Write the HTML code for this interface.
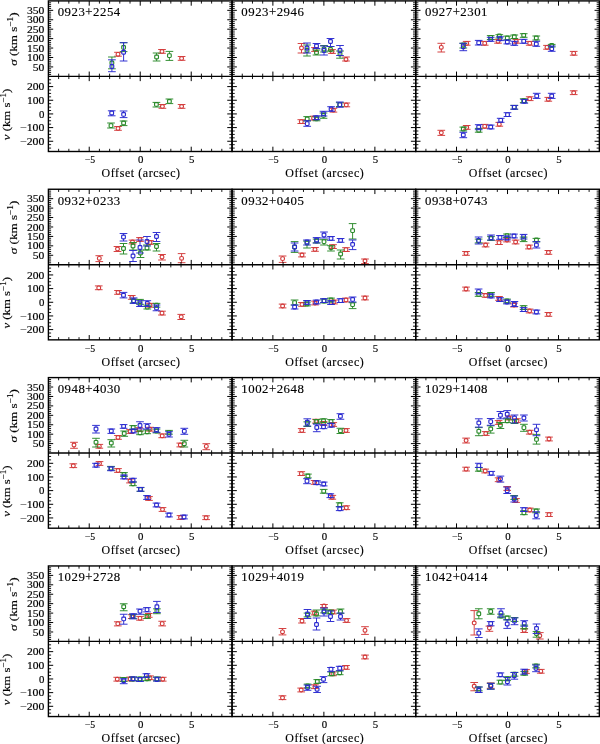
<!DOCTYPE html>
<html><head><meta charset="utf-8"><style>
html,body{margin:0;padding:0;background:#fff;}
svg{display:block;will-change:transform;}
text{font-family:"Liberation Serif",serif;fill:#000;stroke:#000;stroke-width:0.15px;}
.t{font-size:9.4px;}
.xl{font-size:11.9px;}
.nm{font-size:12.8px;}
.yl{font-size:11.3px;}
.sup{font-size:8px;}
</style></head><body>
<svg width="600" height="744" viewBox="0 0 600 744">
<rect width="600" height="744" fill="#fff"/>
<g fill="none" stroke-width="0.95" stroke-linecap="butt">
<g stroke="#d33a3a"><path d="M114.15 52.3h7.7M114.15 56.2h7.7"/><rect x="116.15" y="52.45" width="3.7" height="3.7" rx="1.5" stroke-width="1.15"/></g>
<g stroke="#d33a3a"><path d="M158.15 49.5h7.7M158.15 53.3h7.7"/><rect x="160.15" y="49.55" width="3.7" height="3.7" rx="1.5" stroke-width="1.15"/></g>
<g stroke="#d33a3a"><path d="M177.75 56.5h7.7M177.75 60.3h7.7"/><rect x="179.75" y="56.55" width="3.7" height="3.7" rx="1.5" stroke-width="1.15"/></g>
<g stroke="#2a8a2a"><path d="M111.9 57V61.05M111.9 64.75V68.8M108.05 57h7.7M108.05 68.8h7.7"/><rect x="110.05" y="61.05" width="3.7" height="3.7" rx="0.9" stroke-width="1.15"/></g>
<g stroke="#2a8a2a"><path d="M123.6 42.7V45.55M123.6 49.25V51.6M119.75 42.7h7.7M119.75 51.6h7.7"/><rect x="121.75" y="45.55" width="3.7" height="3.7" rx="0.9" stroke-width="1.15"/></g>
<g stroke="#2a8a2a"><path d="M156.6 53V55.15M156.6 58.85V61M152.75 53h7.7M152.75 61h7.7"/><rect x="154.75" y="55.15" width="3.7" height="3.7" rx="0.9" stroke-width="1.15"/></g>
<g stroke="#2a8a2a"><path d="M169.4 51.4V53.75M169.4 57.45V60.4M165.55 51.4h7.7M165.55 60.4h7.7"/><rect x="167.55" y="53.75" width="3.7" height="3.7" rx="0.9" stroke-width="1.15"/></g>
<g stroke="#2a2ad0"><path d="M111.9 59.8V64.65M111.9 68.35V71.7M108.05 59.8h7.7M108.05 71.7h7.7"/><rect x="110.05" y="64.65" width="3.7" height="3.7" rx="0.9" stroke-width="1.15"/></g>
<g stroke="#2a2ad0"><path d="M123.6 42.7V50.35M123.6 54.05V61M119.75 42.7h7.7M119.75 61h7.7"/><rect x="121.75" y="50.35" width="3.7" height="3.7" rx="0.9" stroke-width="1.15"/></g>
<g stroke="#d33a3a"><path d="M114.15 126.5h7.7M114.15 130.3h7.7"/><rect x="116.15" y="126.55" width="3.7" height="3.7" rx="1.5" stroke-width="1.15"/></g>
<g stroke="#d33a3a"><path d="M158.55 104.5h7.7M158.55 108.3h7.7"/><rect x="160.55" y="104.55" width="3.7" height="3.7" rx="1.5" stroke-width="1.15"/></g>
<g stroke="#d33a3a"><path d="M177.75 104.5h7.7M177.75 108.3h7.7"/><rect x="179.75" y="104.55" width="3.7" height="3.7" rx="1.5" stroke-width="1.15"/></g>
<g stroke="#2a8a2a"><path d="M111 123V123.75M111 127.45V128M107.15 123h7.7M107.15 128h7.7"/><rect x="109.15" y="123.75" width="3.7" height="3.7" rx="0.9" stroke-width="1.15"/></g>
<g stroke="#2a8a2a"><path d="M123.6 124.85V125.6M119.75 121h7.7M119.75 125.6h7.7"/><rect x="121.75" y="121.15" width="3.7" height="3.7" rx="0.9" stroke-width="1.15"/></g>
<g stroke="#2a8a2a"><path d="M156.4 106.25V107M152.55 102.4h7.7M152.55 107h7.7"/><rect x="154.55" y="102.55" width="3.7" height="3.7" rx="0.9" stroke-width="1.15"/></g>
<g stroke="#2a8a2a"><path d="M169.4 99V99.55M165.55 99h7.7M165.55 103.6h7.7"/><rect x="167.55" y="99.55" width="3.7" height="3.7" rx="0.9" stroke-width="1.15"/></g>
<g stroke="#2a2ad0"><path d="M111.7 114.85V115.8M107.85 110.8h7.7M107.85 115.8h7.7"/><rect x="109.85" y="111.15" width="3.7" height="3.7" rx="0.9" stroke-width="1.15"/></g>
<g stroke="#2a2ad0"><path d="M123.6 111V112.55M123.6 116.25V117.6M119.75 111h7.7M119.75 117.6h7.7"/><rect x="121.75" y="112.55" width="3.7" height="3.7" rx="0.9" stroke-width="1.15"/></g>
<g stroke="#d33a3a"><path d="M301.5 43.5V46.15M301.5 49.85V53M297.65 43.5h7.7M297.65 53h7.7"/><rect x="299.65" y="46.15" width="3.7" height="3.7" rx="1.5" stroke-width="1.15"/></g>
<g stroke="#d33a3a"><path d="M311.15 47.6h7.7M311.15 51.4h7.7"/><rect x="313.15" y="47.65" width="3.7" height="3.7" rx="1.5" stroke-width="1.15"/></g>
<g stroke="#d33a3a"><path d="M328.15 49.6h7.7M328.15 53.4h7.7"/><rect x="330.15" y="49.65" width="3.7" height="3.7" rx="1.5" stroke-width="1.15"/></g>
<g stroke="#d33a3a"><path d="M346 57V57.65M342.15 57h7.7M342.15 61h7.7"/><rect x="344.15" y="57.65" width="3.7" height="3.7" rx="1.5" stroke-width="1.15"/></g>
<g stroke="#2a8a2a"><path d="M307 45V48.65M307 52.35V56M303.15 45h7.7M303.15 56h7.7"/><rect x="305.15" y="48.65" width="3.7" height="3.7" rx="0.9" stroke-width="1.15"/></g>
<g stroke="#2a8a2a"><path d="M316.5 50V50.65M316.5 54.35V55M312.65 50h7.7M312.65 55h7.7"/><rect x="314.65" y="50.65" width="3.7" height="3.7" rx="0.9" stroke-width="1.15"/></g>
<g stroke="#2a8a2a"><path d="M324 45.5V47.15M324 50.85V52M320.15 45.5h7.7M320.15 52h7.7"/><rect x="322.15" y="47.15" width="3.7" height="3.7" rx="0.9" stroke-width="1.15"/></g>
<g stroke="#2a8a2a"><path d="M330.5 46.5V47.65M326.65 46.5h7.7M326.65 51h7.7"/><rect x="328.65" y="47.65" width="3.7" height="3.7" rx="0.9" stroke-width="1.15"/></g>
<g stroke="#2a8a2a"><path d="M340 51V52.15M340 55.85V58.2M336.15 51h7.7M336.15 58.2h7.7"/><rect x="338.15" y="52.15" width="3.7" height="3.7" rx="0.9" stroke-width="1.15"/></g>
<g stroke="#2a2ad0"><path d="M307 43V46.15M307 49.85V53M303.15 43h7.7M303.15 53h7.7"/><rect x="305.15" y="46.15" width="3.7" height="3.7" rx="0.9" stroke-width="1.15"/></g>
<g stroke="#2a2ad0"><path d="M316.5 43.5V44.15M316.5 47.85V48.5M312.65 43.5h7.7M312.65 48.5h7.7"/><rect x="314.65" y="44.15" width="3.7" height="3.7" rx="0.9" stroke-width="1.15"/></g>
<g stroke="#2a2ad0"><path d="M324 46V48.65M324 52.35V55M320.15 46h7.7M320.15 55h7.7"/><rect x="322.15" y="48.65" width="3.7" height="3.7" rx="0.9" stroke-width="1.15"/></g>
<g stroke="#2a2ad0"><path d="M330.5 38.5V39.65M330.5 43.35V46.5M326.65 38.5h7.7M326.65 46.5h7.7"/><rect x="328.65" y="39.65" width="3.7" height="3.7" rx="0.9" stroke-width="1.15"/></g>
<g stroke="#2a2ad0"><path d="M340 45.5V48.65M340 52.35V55.5M336.15 45.5h7.7M336.15 55.5h7.7"/><rect x="338.15" y="48.65" width="3.7" height="3.7" rx="0.9" stroke-width="1.15"/></g>
<g stroke="#d33a3a"><path d="M297.45 119.7h7.7M297.45 123.5h7.7"/><rect x="299.45" y="119.75" width="3.7" height="3.7" rx="1.5" stroke-width="1.15"/></g>
<g stroke="#d33a3a"><path d="M309.75 116.2h7.7M309.75 120h7.7"/><rect x="311.75" y="116.25" width="3.7" height="3.7" rx="1.5" stroke-width="1.15"/></g>
<g stroke="#d33a3a"><path d="M329.55 108.3h7.7M329.55 112.1h7.7"/><rect x="331.55" y="108.35" width="3.7" height="3.7" rx="1.5" stroke-width="1.15"/></g>
<g stroke="#d33a3a"><path d="M342.45 103h7.7M342.45 106.8h7.7"/><rect x="344.45" y="103.05" width="3.7" height="3.7" rx="1.5" stroke-width="1.15"/></g>
<g stroke="#2a8a2a"><path d="M307.2 116.6V117.05M303.35 116.6h7.7M303.35 121h7.7"/><rect x="305.35" y="117.05" width="3.7" height="3.7" rx="0.9" stroke-width="1.15"/></g>
<g stroke="#2a8a2a"><path d="M312.65 117h7.7M312.65 120.8h7.7"/><rect x="314.65" y="117.05" width="3.7" height="3.7" rx="0.9" stroke-width="1.15"/></g>
<g stroke="#2a8a2a"><path d="M323.5 113V113.55M323.5 117.25V118.3M319.65 113h7.7M319.65 118.3h7.7"/><rect x="321.65" y="113.55" width="3.7" height="3.7" rx="0.9" stroke-width="1.15"/></g>
<g stroke="#2a8a2a"><path d="M335.95 102.7h7.7M335.95 106.5h7.7"/><rect x="337.95" y="102.75" width="3.7" height="3.7" rx="0.9" stroke-width="1.15"/></g>
<g stroke="#2a2ad0"><path d="M307.2 120.7V121.75M307.2 125.45V126.3M303.35 120.7h7.7M303.35 126.3h7.7"/><rect x="305.35" y="121.75" width="3.7" height="3.7" rx="0.9" stroke-width="1.15"/></g>
<g stroke="#2a2ad0"><path d="M312.65 115.85h7.7M312.65 119.65h7.7"/><rect x="314.65" y="115.9" width="3.7" height="3.7" rx="0.9" stroke-width="1.15"/></g>
<g stroke="#2a2ad0"><path d="M323.5 111.3V111.85M323.5 115.55V116M319.65 111.3h7.7M319.65 116h7.7"/><rect x="321.65" y="111.85" width="3.7" height="3.7" rx="0.9" stroke-width="1.15"/></g>
<g stroke="#2a2ad0"><path d="M331.1 106.7V107.15M331.1 110.85V111.3M327.25 106.7h7.7M327.25 111.3h7.7"/><rect x="329.25" y="107.15" width="3.7" height="3.7" rx="0.9" stroke-width="1.15"/></g>
<g stroke="#2a2ad0"><path d="M339.8 102V102.75M339.8 106.45V107.3M335.95 102h7.7M335.95 107.3h7.7"/><rect x="337.95" y="102.75" width="3.7" height="3.7" rx="0.9" stroke-width="1.15"/></g>
<g stroke="#d33a3a"><path d="M441.3 43.3V45.45M441.3 49.15V52M437.45 43.3h7.7M437.45 52h7.7"/><rect x="439.45" y="45.45" width="3.7" height="3.7" rx="1.5" stroke-width="1.15"/></g>
<g stroke="#d33a3a"><path d="M462.85 41.4h7.7M462.85 45.2h7.7"/><rect x="464.85" y="41.45" width="3.7" height="3.7" rx="1.5" stroke-width="1.15"/></g>
<g stroke="#d33a3a"><path d="M480.85 41.4h7.7M480.85 45.2h7.7"/><rect x="482.85" y="41.45" width="3.7" height="3.7" rx="1.5" stroke-width="1.15"/></g>
<g stroke="#d33a3a"><path d="M494.15 39.4h7.7M494.15 43.2h7.7"/><rect x="496.15" y="39.45" width="3.7" height="3.7" rx="1.5" stroke-width="1.15"/></g>
<g stroke="#d33a3a"><path d="M512.45 39.4h7.7M512.45 43.2h7.7"/><rect x="514.45" y="39.45" width="3.7" height="3.7" rx="1.5" stroke-width="1.15"/></g>
<g stroke="#d33a3a"><path d="M525.85 41.4h7.7M525.85 45.2h7.7"/><rect x="527.85" y="41.45" width="3.7" height="3.7" rx="1.5" stroke-width="1.15"/></g>
<g stroke="#d33a3a"><path d="M543.15 45.4h7.7M543.15 49.2h7.7"/><rect x="545.15" y="45.45" width="3.7" height="3.7" rx="1.5" stroke-width="1.15"/></g>
<g stroke="#d33a3a"><path d="M569.85 51.4h7.7M569.85 55.2h7.7"/><rect x="571.85" y="51.45" width="3.7" height="3.7" rx="1.5" stroke-width="1.15"/></g>
<g stroke="#2a8a2a"><path d="M463.3 46.85V48M459.45 43.3h7.7M459.45 48h7.7"/><rect x="461.45" y="43.15" width="3.7" height="3.7" rx="0.9" stroke-width="1.15"/></g>
<g stroke="#2a8a2a"><path d="M486.85 35.6h7.7M486.85 39.5h7.7"/><rect x="488.85" y="35.45" width="3.7" height="3.7" rx="0.9" stroke-width="1.15"/></g>
<g stroke="#2a8a2a"><path d="M495.45 34.7h7.7M495.45 38h7.7"/><rect x="497.45" y="34.15" width="3.7" height="3.7" rx="0.9" stroke-width="1.15"/></g>
<g stroke="#2a8a2a"><path d="M503.45 36.1h7.7M503.45 39.9h7.7"/><rect x="505.45" y="36.15" width="3.7" height="3.7" rx="0.9" stroke-width="1.15"/></g>
<g stroke="#2a8a2a"><path d="M510.45 35h7.7M510.45 38.5h7.7"/><rect x="512.45" y="34.85" width="3.7" height="3.7" rx="0.9" stroke-width="1.15"/></g>
<g stroke="#2a8a2a"><path d="M519.85 33.7h7.7M519.85 37.3h7.7"/><rect x="521.85" y="33.45" width="3.7" height="3.7" rx="0.9" stroke-width="1.15"/></g>
<g stroke="#2a8a2a"><path d="M532.45 36h7.7M532.45 40h7.7"/><rect x="534.45" y="36.15" width="3.7" height="3.7" rx="0.9" stroke-width="1.15"/></g>
<g stroke="#2a8a2a"><path d="M547.85 44.4h7.7M547.85 47h7.7"/><rect x="549.85" y="43.45" width="3.7" height="3.7" rx="0.9" stroke-width="1.15"/></g>
<g stroke="#2a2ad0"><path d="M463.3 43.3V44.85M463.3 48.55V50.7M459.45 43.3h7.7M459.45 50.7h7.7"/><rect x="461.45" y="44.85" width="3.7" height="3.7" rx="0.9" stroke-width="1.15"/></g>
<g stroke="#2a2ad0"><path d="M478.7 40.4V40.85M478.7 44.55V45M474.85 40.4h7.7M474.85 45h7.7"/><rect x="476.85" y="40.85" width="3.7" height="3.7" rx="0.9" stroke-width="1.15"/></g>
<g stroke="#2a2ad0"><path d="M486.85 37.3h7.7M486.85 41.3h7.7"/><rect x="488.85" y="37.45" width="3.7" height="3.7" rx="0.9" stroke-width="1.15"/></g>
<g stroke="#2a2ad0"><path d="M496.15 36.8h7.7M496.15 40.6h7.7"/><rect x="498.15" y="36.85" width="3.7" height="3.7" rx="0.9" stroke-width="1.15"/></g>
<g stroke="#2a2ad0"><path d="M503.45 40.1h7.7M503.45 43.9h7.7"/><rect x="505.45" y="40.15" width="3.7" height="3.7" rx="0.9" stroke-width="1.15"/></g>
<g stroke="#2a2ad0"><path d="M510.45 41.3h7.7M510.45 45.3h7.7"/><rect x="512.45" y="41.45" width="3.7" height="3.7" rx="0.9" stroke-width="1.15"/></g>
<g stroke="#2a2ad0"><path d="M519.85 39.3h7.7M519.85 43.3h7.7"/><rect x="521.85" y="39.45" width="3.7" height="3.7" rx="0.9" stroke-width="1.15"/></g>
<g stroke="#2a2ad0"><path d="M536.3 41.3V42.15M536.3 45.85V46.3M532.45 41.3h7.7M532.45 46.3h7.7"/><rect x="534.45" y="42.15" width="3.7" height="3.7" rx="0.9" stroke-width="1.15"/></g>
<g stroke="#2a2ad0"><path d="M551.7 46V46.85M551.7 50.55V51.3M547.85 46h7.7M547.85 51.3h7.7"/><rect x="549.85" y="46.85" width="3.7" height="3.7" rx="0.9" stroke-width="1.15"/></g>
<g stroke="#d33a3a"><path d="M441.3 130.3V130.85M441.3 134.55V135.4M437.45 130.3h7.7M437.45 135.4h7.7"/><rect x="439.45" y="130.85" width="3.7" height="3.7" rx="1.5" stroke-width="1.15"/></g>
<g stroke="#d33a3a"><path d="M462.85 125.5h7.7M462.85 129.3h7.7"/><rect x="464.85" y="125.55" width="3.7" height="3.7" rx="1.5" stroke-width="1.15"/></g>
<g stroke="#d33a3a"><path d="M480.85 124.4h7.7M480.85 128.2h7.7"/><rect x="482.85" y="124.45" width="3.7" height="3.7" rx="1.5" stroke-width="1.15"/></g>
<g stroke="#d33a3a"><path d="M495.45 122.4h7.7M495.45 126.2h7.7"/><rect x="497.45" y="122.45" width="3.7" height="3.7" rx="1.5" stroke-width="1.15"/></g>
<g stroke="#d33a3a"><path d="M525.85 96.8h7.7M525.85 100.6h7.7"/><rect x="527.85" y="96.85" width="3.7" height="3.7" rx="1.5" stroke-width="1.15"/></g>
<g stroke="#d33a3a"><path d="M544.45 97.4h7.7M544.45 101.2h7.7"/><rect x="546.45" y="97.45" width="3.7" height="3.7" rx="1.5" stroke-width="1.15"/></g>
<g stroke="#d33a3a"><path d="M569.85 90.8h7.7M569.85 94.6h7.7"/><rect x="571.85" y="90.85" width="3.7" height="3.7" rx="1.5" stroke-width="1.15"/></g>
<g stroke="#2a8a2a"><path d="M459.45 127.1h7.7M459.45 130.9h7.7"/><rect x="461.45" y="127.15" width="3.7" height="3.7" rx="0.9" stroke-width="1.15"/></g>
<g stroke="#2a8a2a"><path d="M474.85 128.4h7.7M474.85 132.2h7.7"/><rect x="476.85" y="128.45" width="3.7" height="3.7" rx="0.9" stroke-width="1.15"/></g>
<g stroke="#2a8a2a"><path d="M510.45 105.4h7.7M510.45 109.2h7.7"/><rect x="512.45" y="105.45" width="3.7" height="3.7" rx="0.9" stroke-width="1.15"/></g>
<g stroke="#2a8a2a"><path d="M519.85 98.8h7.7M519.85 102.6h7.7"/><rect x="521.85" y="98.85" width="3.7" height="3.7" rx="0.9" stroke-width="1.15"/></g>
<g stroke="#2a2ad0"><path d="M463.3 132.3V133.15M463.3 136.85V137.7M459.45 132.3h7.7M459.45 137.7h7.7"/><rect x="461.45" y="133.15" width="3.7" height="3.7" rx="0.9" stroke-width="1.15"/></g>
<g stroke="#2a2ad0"><path d="M478.7 124.7V125.15M478.7 128.85V129.7M474.85 124.7h7.7M474.85 129.7h7.7"/><rect x="476.85" y="125.15" width="3.7" height="3.7" rx="0.9" stroke-width="1.15"/></g>
<g stroke="#2a2ad0"><path d="M486.85 125.1h7.7M486.85 128.9h7.7"/><rect x="488.85" y="125.15" width="3.7" height="3.7" rx="0.9" stroke-width="1.15"/></g>
<g stroke="#2a2ad0"><path d="M496.85 118.3h7.7M496.85 122.3h7.7"/><rect x="498.85" y="118.45" width="3.7" height="3.7" rx="0.9" stroke-width="1.15"/></g>
<g stroke="#2a2ad0"><path d="M503.65 112.7h7.7M503.65 116.5h7.7"/><rect x="505.65" y="112.75" width="3.7" height="3.7" rx="0.9" stroke-width="1.15"/></g>
<g stroke="#2a2ad0"><path d="M510.45 105.4h7.7M510.45 109.2h7.7"/><rect x="512.45" y="105.45" width="3.7" height="3.7" rx="0.9" stroke-width="1.15"/></g>
<g stroke="#2a2ad0"><path d="M520.45 99.4h7.7M520.45 103.2h7.7"/><rect x="522.45" y="99.45" width="3.7" height="3.7" rx="0.9" stroke-width="1.15"/></g>
<g stroke="#2a2ad0"><path d="M536.7 93.3V94.15M536.7 97.85V98.4M532.85 93.3h7.7M532.85 98.4h7.7"/><rect x="534.85" y="94.15" width="3.7" height="3.7" rx="0.9" stroke-width="1.15"/></g>
<g stroke="#2a2ad0"><path d="M551.7 93.3V94.15M551.7 97.85V98.4M547.85 93.3h7.7M547.85 98.4h7.7"/><rect x="549.85" y="94.15" width="3.7" height="3.7" rx="0.9" stroke-width="1.15"/></g>
<g stroke="#d33a3a"><path d="M99.3 255.7V256.45M99.3 260.15V261.6M95.45 255.7h7.7M95.45 261.6h7.7"/><rect x="97.45" y="256.45" width="3.7" height="3.7" rx="1.5" stroke-width="1.15"/></g>
<g stroke="#d33a3a"><path d="M117.5 246.5V247.15M117.5 250.85V251.5M113.65 246.5h7.7M113.65 251.5h7.7"/><rect x="115.65" y="247.15" width="3.7" height="3.7" rx="1.5" stroke-width="1.15"/></g>
<g stroke="#d33a3a"><path d="M128.65 240.1h7.7M128.65 243.9h7.7"/><rect x="130.65" y="240.15" width="3.7" height="3.7" rx="1.5" stroke-width="1.15"/></g>
<g stroke="#d33a3a"><path d="M136.15 237.6h7.7M136.15 241.4h7.7"/><rect x="138.15" y="237.65" width="3.7" height="3.7" rx="1.5" stroke-width="1.15"/></g>
<g stroke="#d33a3a"><path d="M146.15 240.6h7.7M146.15 244.4h7.7"/><rect x="148.15" y="240.65" width="3.7" height="3.7" rx="1.5" stroke-width="1.15"/></g>
<g stroke="#d33a3a"><path d="M162 254.5V255.15M162 258.85V260M158.15 254.5h7.7M158.15 260h7.7"/><rect x="160.15" y="255.15" width="3.7" height="3.7" rx="1.5" stroke-width="1.15"/></g>
<g stroke="#d33a3a"><path d="M181.6 253.6V256.45M181.6 260.15V262.7M177.75 253.6h7.7M177.75 262.7h7.7"/><rect x="179.75" y="256.45" width="3.7" height="3.7" rx="1.5" stroke-width="1.15"/></g>
<g stroke="#2a8a2a"><path d="M123.5 243.5V246.65M123.5 250.35V254M119.65 243.5h7.7M119.65 254h7.7"/><rect x="121.65" y="246.65" width="3.7" height="3.7" rx="0.9" stroke-width="1.15"/></g>
<g stroke="#2a8a2a"><path d="M133 242.5V244.15M133 247.85V250M129.15 242.5h7.7M129.15 250h7.7"/><rect x="131.15" y="244.15" width="3.7" height="3.7" rx="0.9" stroke-width="1.15"/></g>
<g stroke="#2a8a2a"><path d="M140.5 250V251.15M140.5 254.85V257.5M136.65 250h7.7M136.65 257.5h7.7"/><rect x="138.65" y="251.15" width="3.7" height="3.7" rx="0.9" stroke-width="1.15"/></g>
<g stroke="#2a8a2a"><path d="M147 245V246.15M143.15 245h7.7M143.15 250h7.7"/><rect x="145.15" y="246.15" width="3.7" height="3.7" rx="0.9" stroke-width="1.15"/></g>
<g stroke="#2a8a2a"><path d="M156.5 243.5V244.65M156.5 248.35V251M152.65 243.5h7.7M152.65 251h7.7"/><rect x="154.65" y="244.65" width="3.7" height="3.7" rx="0.9" stroke-width="1.15"/></g>
<g stroke="#2a2ad0"><path d="M123.5 233.5V235.15M123.5 238.85V241M119.65 233.5h7.7M119.65 241h7.7"/><rect x="121.65" y="235.15" width="3.7" height="3.7" rx="0.9" stroke-width="1.15"/></g>
<g stroke="#2a2ad0"><path d="M133 250.5V254.15M133 257.85V261.5M129.15 250.5h7.7M129.15 261.5h7.7"/><rect x="131.15" y="254.15" width="3.7" height="3.7" rx="0.9" stroke-width="1.15"/></g>
<g stroke="#2a2ad0"><path d="M140 240V245.65M140 249.35V253M136.15 240h7.7M136.15 253h7.7"/><rect x="138.15" y="245.65" width="3.7" height="3.7" rx="0.9" stroke-width="1.15"/></g>
<g stroke="#2a2ad0"><path d="M147 236.5V239.65M147 243.35V246M143.15 236.5h7.7M143.15 246h7.7"/><rect x="145.15" y="239.65" width="3.7" height="3.7" rx="0.9" stroke-width="1.15"/></g>
<g stroke="#2a2ad0"><path d="M156.5 232.5V234.65M156.5 238.35V241.5M152.65 232.5h7.7M152.65 241.5h7.7"/><rect x="154.65" y="234.65" width="3.7" height="3.7" rx="0.9" stroke-width="1.15"/></g>
<g stroke="#d33a3a"><path d="M94.9 285.9h7.7M94.9 289.7h7.7"/><rect x="96.9" y="285.95" width="3.7" height="3.7" rx="1.5" stroke-width="1.15"/></g>
<g stroke="#d33a3a"><path d="M114.15 290.5h7.7M114.15 294.3h7.7"/><rect x="116.15" y="290.55" width="3.7" height="3.7" rx="1.5" stroke-width="1.15"/></g>
<g stroke="#d33a3a"><path d="M127.9 295.5h7.7M127.9 299.3h7.7"/><rect x="129.9" y="295.55" width="3.7" height="3.7" rx="1.5" stroke-width="1.15"/></g>
<g stroke="#d33a3a"><path d="M146.15 303.35h7.7M146.15 307.15h7.7"/><rect x="148.15" y="303.4" width="3.7" height="3.7" rx="1.5" stroke-width="1.15"/></g>
<g stroke="#d33a3a"><path d="M158.15 311.2h7.7M158.15 315h7.7"/><rect x="160.15" y="311.25" width="3.7" height="3.7" rx="1.5" stroke-width="1.15"/></g>
<g stroke="#d33a3a"><path d="M181.25 314.4V314.95M181.25 318.65V319.5M177.4 314.4h7.7M177.4 319.5h7.7"/><rect x="179.4" y="314.95" width="3.7" height="3.7" rx="1.5" stroke-width="1.15"/></g>
<g stroke="#2a8a2a"><path d="M129.75 299.1h7.7M129.75 302.9h7.7"/><rect x="131.75" y="299.15" width="3.7" height="3.7" rx="0.9" stroke-width="1.15"/></g>
<g stroke="#2a8a2a"><path d="M140 303.45V304.3M136.15 299.4h7.7M136.15 304.3h7.7"/><rect x="138.15" y="299.75" width="3.7" height="3.7" rx="0.9" stroke-width="1.15"/></g>
<g stroke="#2a8a2a"><path d="M143.45 305.2h7.7M143.45 309h7.7"/><rect x="145.45" y="305.25" width="3.7" height="3.7" rx="0.9" stroke-width="1.15"/></g>
<g stroke="#2a8a2a"><path d="M152.65 303.35h7.7M152.65 307.15h7.7"/><rect x="154.65" y="303.4" width="3.7" height="3.7" rx="0.9" stroke-width="1.15"/></g>
<g stroke="#2a2ad0"><path d="M123.5 292.4V293.35M123.5 297.05V297.9M119.65 292.4h7.7M119.65 297.9h7.7"/><rect x="121.65" y="293.35" width="3.7" height="3.7" rx="0.9" stroke-width="1.15"/></g>
<g stroke="#2a2ad0"><path d="M133.6 297.9V298.85M133.6 302.55V303.4M129.75 297.9h7.7M129.75 303.4h7.7"/><rect x="131.75" y="298.85" width="3.7" height="3.7" rx="0.9" stroke-width="1.15"/></g>
<g stroke="#2a2ad0"><path d="M140 300.7V302.15M140 305.85V306.5M136.15 300.7h7.7M136.15 306.5h7.7"/><rect x="138.15" y="302.15" width="3.7" height="3.7" rx="0.9" stroke-width="1.15"/></g>
<g stroke="#2a2ad0"><path d="M147.3 300.7V301.55M147.3 305.25V306.5M143.45 300.7h7.7M143.45 306.5h7.7"/><rect x="145.45" y="301.55" width="3.7" height="3.7" rx="0.9" stroke-width="1.15"/></g>
<g stroke="#2a2ad0"><path d="M156.5 305V306.15M156.5 309.85V310.75M152.65 305h7.7M152.65 310.75h7.7"/><rect x="154.65" y="306.15" width="3.7" height="3.7" rx="0.9" stroke-width="1.15"/></g>
<g stroke="#d33a3a"><path d="M282.6 256V256.75M282.6 260.45V262.4M278.75 256h7.7M278.75 262.4h7.7"/><rect x="280.75" y="256.75" width="3.7" height="3.7" rx="1.5" stroke-width="1.15"/></g>
<g stroke="#d33a3a"><path d="M298.15 253.1h7.7M298.15 256.9h7.7"/><rect x="300.15" y="253.15" width="3.7" height="3.7" rx="1.5" stroke-width="1.15"/></g>
<g stroke="#d33a3a"><path d="M311.15 247.5h7.7M311.15 251.3h7.7"/><rect x="313.15" y="247.55" width="3.7" height="3.7" rx="1.5" stroke-width="1.15"/></g>
<g stroke="#d33a3a"><path d="M329.15 244.7h7.7M329.15 248.5h7.7"/><rect x="331.15" y="244.75" width="3.7" height="3.7" rx="1.5" stroke-width="1.15"/></g>
<g stroke="#d33a3a"><path d="M342.15 247.7h7.7M342.15 251.5h7.7"/><rect x="344.15" y="247.75" width="3.7" height="3.7" rx="1.5" stroke-width="1.15"/></g>
<g stroke="#d33a3a"><path d="M365 262.85V263.6M361.15 259h7.7M361.15 263.6h7.7"/><rect x="363.15" y="259.15" width="3.7" height="3.7" rx="1.5" stroke-width="1.15"/></g>
<g stroke="#2a8a2a"><path d="M294.6 241.6V245.15M294.6 248.85V252.4M290.75 241.6h7.7M290.75 252.4h7.7"/><rect x="292.75" y="245.15" width="3.7" height="3.7" rx="0.9" stroke-width="1.15"/></g>
<g stroke="#2a8a2a"><path d="M307 244.85V248M303.15 241.1h7.7M303.15 248h7.7"/><rect x="305.15" y="241.15" width="3.7" height="3.7" rx="0.9" stroke-width="1.15"/></g>
<g stroke="#2a8a2a"><path d="M312.75 239.1h7.7M312.75 242.9h7.7"/><rect x="314.75" y="239.15" width="3.7" height="3.7" rx="0.9" stroke-width="1.15"/></g>
<g stroke="#2a8a2a"><path d="M324 243.45V245M320.15 239.7h7.7M320.15 245h7.7"/><rect x="322.15" y="239.75" width="3.7" height="3.7" rx="0.9" stroke-width="1.15"/></g>
<g stroke="#2a8a2a"><path d="M331 249.45V251M327.15 245.7h7.7M327.15 251h7.7"/><rect x="329.15" y="245.75" width="3.7" height="3.7" rx="0.9" stroke-width="1.15"/></g>
<g stroke="#2a8a2a"><path d="M340.6 250V252.15M340.6 255.85V259M336.75 250h7.7M336.75 259h7.7"/><rect x="338.75" y="252.15" width="3.7" height="3.7" rx="0.9" stroke-width="1.15"/></g>
<g stroke="#2a8a2a"><path d="M352.6 223.6V228.75M352.6 232.45V239M348.75 223.6h7.7M348.75 239h7.7"/><rect x="350.75" y="228.75" width="3.7" height="3.7" rx="0.9" stroke-width="1.15"/></g>
<g stroke="#2a2ad0"><path d="M294.6 243V245.15M294.6 248.85V251M290.75 243h7.7M290.75 251h7.7"/><rect x="292.75" y="245.15" width="3.7" height="3.7" rx="0.9" stroke-width="1.15"/></g>
<g stroke="#2a2ad0"><path d="M307 243.85V245M303.15 240h7.7M303.15 245h7.7"/><rect x="305.15" y="240.15" width="3.7" height="3.7" rx="0.9" stroke-width="1.15"/></g>
<g stroke="#2a2ad0"><path d="M316.6 237.6V238.15M316.6 241.85V243M312.75 237.6h7.7M312.75 243h7.7"/><rect x="314.75" y="238.15" width="3.7" height="3.7" rx="0.9" stroke-width="1.15"/></g>
<g stroke="#2a2ad0"><path d="M324 232V233.15M324 236.85V238M320.15 232h7.7M320.15 238h7.7"/><rect x="322.15" y="233.15" width="3.7" height="3.7" rx="0.9" stroke-width="1.15"/></g>
<g stroke="#2a2ad0"><path d="M327.15 236.5h7.7M327.15 240.3h7.7"/><rect x="329.15" y="236.55" width="3.7" height="3.7" rx="0.9" stroke-width="1.15"/></g>
<g stroke="#2a2ad0"><path d="M336.75 238.5h7.7M336.75 242.3h7.7"/><rect x="338.75" y="238.55" width="3.7" height="3.7" rx="0.9" stroke-width="1.15"/></g>
<g stroke="#2a2ad0"><path d="M352.6 240V242.55M352.6 246.25V249.6M348.75 240h7.7M348.75 249.6h7.7"/><rect x="350.75" y="242.55" width="3.7" height="3.7" rx="0.9" stroke-width="1.15"/></g>
<g stroke="#d33a3a"><path d="M278.75 304.1h7.7M278.75 307.9h7.7"/><rect x="280.75" y="304.15" width="3.7" height="3.7" rx="1.5" stroke-width="1.15"/></g>
<g stroke="#d33a3a"><path d="M298.15 302.5h7.7M298.15 306.3h7.7"/><rect x="300.15" y="302.55" width="3.7" height="3.7" rx="1.5" stroke-width="1.15"/></g>
<g stroke="#d33a3a"><path d="M311.15 301.1h7.7M311.15 304.9h7.7"/><rect x="313.15" y="301.15" width="3.7" height="3.7" rx="1.5" stroke-width="1.15"/></g>
<g stroke="#d33a3a"><path d="M330.15 300.1h7.7M330.15 303.9h7.7"/><rect x="332.15" y="300.15" width="3.7" height="3.7" rx="1.5" stroke-width="1.15"/></g>
<g stroke="#d33a3a"><path d="M342.15 298.1h7.7M342.15 301.9h7.7"/><rect x="344.15" y="298.15" width="3.7" height="3.7" rx="1.5" stroke-width="1.15"/></g>
<g stroke="#d33a3a"><path d="M361.15 296.1h7.7M361.15 299.9h7.7"/><rect x="363.15" y="296.15" width="3.7" height="3.7" rx="1.5" stroke-width="1.15"/></g>
<g stroke="#2a8a2a"><path d="M294.6 300V300.75M294.6 304.45V305M290.75 300h7.7M290.75 305h7.7"/><rect x="292.75" y="300.75" width="3.7" height="3.7" rx="0.9" stroke-width="1.15"/></g>
<g stroke="#2a8a2a"><path d="M303.15 302.1h7.7M303.15 305.9h7.7"/><rect x="305.15" y="302.15" width="3.7" height="3.7" rx="0.9" stroke-width="1.15"/></g>
<g stroke="#2a8a2a"><path d="M320.15 299.1h7.7M320.15 302.9h7.7"/><rect x="322.15" y="299.15" width="3.7" height="3.7" rx="0.9" stroke-width="1.15"/></g>
<g stroke="#2a8a2a"><path d="M327.15 298.1h7.7M327.15 301.9h7.7"/><rect x="329.15" y="298.15" width="3.7" height="3.7" rx="0.9" stroke-width="1.15"/></g>
<g stroke="#2a8a2a"><path d="M352.6 306.45V308.6M348.75 302.7h7.7M348.75 308.6h7.7"/><rect x="350.75" y="302.75" width="3.7" height="3.7" rx="0.9" stroke-width="1.15"/></g>
<g stroke="#2a2ad0"><path d="M290.75 305h7.7M290.75 309h7.7"/><rect x="292.75" y="305.15" width="3.7" height="3.7" rx="0.9" stroke-width="1.15"/></g>
<g stroke="#2a2ad0"><path d="M303.15 300.5h7.7M303.15 304.3h7.7"/><rect x="305.15" y="300.55" width="3.7" height="3.7" rx="0.9" stroke-width="1.15"/></g>
<g stroke="#2a2ad0"><path d="M312.75 300.1h7.7M312.75 303.9h7.7"/><rect x="314.75" y="300.15" width="3.7" height="3.7" rx="0.9" stroke-width="1.15"/></g>
<g stroke="#2a2ad0"><path d="M320.15 298.7h7.7M320.15 302.5h7.7"/><rect x="322.15" y="298.75" width="3.7" height="3.7" rx="0.9" stroke-width="1.15"/></g>
<g stroke="#2a2ad0"><path d="M327.15 300.7h7.7M327.15 304.5h7.7"/><rect x="329.15" y="300.75" width="3.7" height="3.7" rx="0.9" stroke-width="1.15"/></g>
<g stroke="#2a2ad0"><path d="M336.75 298.7h7.7M336.75 302.5h7.7"/><rect x="338.75" y="298.75" width="3.7" height="3.7" rx="0.9" stroke-width="1.15"/></g>
<g stroke="#2a2ad0"><path d="M352.6 297V297.55M352.6 301.25V302M348.75 297h7.7M348.75 302h7.7"/><rect x="350.75" y="297.55" width="3.7" height="3.7" rx="0.9" stroke-width="1.15"/></g>
<g stroke="#d33a3a"><path d="M462.15 251.5h7.7M462.15 255.3h7.7"/><rect x="464.15" y="251.55" width="3.7" height="3.7" rx="1.5" stroke-width="1.15"/></g>
<g stroke="#d33a3a"><path d="M481.75 243.1h7.7M481.75 246.9h7.7"/><rect x="483.75" y="243.15" width="3.7" height="3.7" rx="1.5" stroke-width="1.15"/></g>
<g stroke="#d33a3a"><path d="M495.15 240.7h7.7M495.15 244.5h7.7"/><rect x="497.15" y="240.75" width="3.7" height="3.7" rx="1.5" stroke-width="1.15"/></g>
<g stroke="#d33a3a"><path d="M503.15 238.1h7.7M503.15 241.9h7.7"/><rect x="505.15" y="238.15" width="3.7" height="3.7" rx="1.5" stroke-width="1.15"/></g>
<g stroke="#d33a3a"><path d="M511.75 240.1h7.7M511.75 243.9h7.7"/><rect x="513.75" y="240.15" width="3.7" height="3.7" rx="1.5" stroke-width="1.15"/></g>
<g stroke="#d33a3a"><path d="M525.15 245.1h7.7M525.15 248.9h7.7"/><rect x="527.15" y="245.15" width="3.7" height="3.7" rx="1.5" stroke-width="1.15"/></g>
<g stroke="#d33a3a"><path d="M544.55 250.5h7.7M544.55 254.3h7.7"/><rect x="546.55" y="250.55" width="3.7" height="3.7" rx="1.5" stroke-width="1.15"/></g>
<g stroke="#2a8a2a"><path d="M474.75 239.1h7.7M474.75 242.9h7.7"/><rect x="476.75" y="239.15" width="3.7" height="3.7" rx="0.9" stroke-width="1.15"/></g>
<g stroke="#2a8a2a"><path d="M487.15 236.6h7.7M487.15 240.4h7.7"/><rect x="489.15" y="236.65" width="3.7" height="3.7" rx="0.9" stroke-width="1.15"/></g>
<g stroke="#2a8a2a"><path d="M503.15 234h7.7M503.15 237.5h7.7"/><rect x="505.15" y="233.75" width="3.7" height="3.7" rx="0.9" stroke-width="1.15"/></g>
<g stroke="#2a8a2a"><path d="M523.6 240.85V241.6M519.75 237.1h7.7M519.75 241.6h7.7"/><rect x="521.75" y="237.15" width="3.7" height="3.7" rx="0.9" stroke-width="1.15"/></g>
<g stroke="#2a8a2a"><path d="M532.55 238.4h7.7M532.55 241.9h7.7"/><rect x="534.55" y="238.15" width="3.7" height="3.7" rx="0.9" stroke-width="1.15"/></g>
<g stroke="#2a2ad0"><path d="M478.6 237V238.55M478.6 242.25V244M474.75 237h7.7M474.75 244h7.7"/><rect x="476.75" y="238.55" width="3.7" height="3.7" rx="0.9" stroke-width="1.15"/></g>
<g stroke="#2a2ad0"><path d="M491 235V235.75M491 239.45V240M487.15 235h7.7M487.15 240h7.7"/><rect x="489.15" y="235.75" width="3.7" height="3.7" rx="0.9" stroke-width="1.15"/></g>
<g stroke="#2a2ad0"><path d="M496.15 235.5h7.7M496.15 239.3h7.7"/><rect x="498.15" y="235.55" width="3.7" height="3.7" rx="0.9" stroke-width="1.15"/></g>
<g stroke="#2a2ad0"><path d="M503.15 236.1h7.7M503.15 239.9h7.7"/><rect x="505.15" y="236.15" width="3.7" height="3.7" rx="0.9" stroke-width="1.15"/></g>
<g stroke="#2a2ad0"><path d="M510.15 234.1h7.7M510.15 237.9h7.7"/><rect x="512.15" y="234.15" width="3.7" height="3.7" rx="0.9" stroke-width="1.15"/></g>
<g stroke="#2a2ad0"><path d="M523.6 238.25V239M519.75 234.4h7.7M519.75 239h7.7"/><rect x="521.75" y="234.55" width="3.7" height="3.7" rx="0.9" stroke-width="1.15"/></g>
<g stroke="#2a2ad0"><path d="M536.4 241.6V243.15M536.4 246.85V248M532.55 241.6h7.7M532.55 248h7.7"/><rect x="534.55" y="243.15" width="3.7" height="3.7" rx="0.9" stroke-width="1.15"/></g>
<g stroke="#d33a3a"><path d="M462.15 287.1h7.7M462.15 290.9h7.7"/><rect x="464.15" y="287.15" width="3.7" height="3.7" rx="1.5" stroke-width="1.15"/></g>
<g stroke="#d33a3a"><path d="M481.75 293.5h7.7M481.75 297.3h7.7"/><rect x="483.75" y="293.55" width="3.7" height="3.7" rx="1.5" stroke-width="1.15"/></g>
<g stroke="#d33a3a"><path d="M495.15 296.5h7.7M495.15 300.3h7.7"/><rect x="497.15" y="296.55" width="3.7" height="3.7" rx="1.5" stroke-width="1.15"/></g>
<g stroke="#d33a3a"><path d="M510.15 303.1h7.7M510.15 306.9h7.7"/><rect x="512.15" y="303.15" width="3.7" height="3.7" rx="1.5" stroke-width="1.15"/></g>
<g stroke="#d33a3a"><path d="M525.75 309.1h7.7M525.75 312.9h7.7"/><rect x="527.75" y="309.15" width="3.7" height="3.7" rx="1.5" stroke-width="1.15"/></g>
<g stroke="#d33a3a"><path d="M544.55 312.5h7.7M544.55 316.3h7.7"/><rect x="546.55" y="312.55" width="3.7" height="3.7" rx="1.5" stroke-width="1.15"/></g>
<g stroke="#2a8a2a"><path d="M474.75 292.5h7.7M474.75 296.3h7.7"/><rect x="476.75" y="292.55" width="3.7" height="3.7" rx="0.9" stroke-width="1.15"/></g>
<g stroke="#2a8a2a"><path d="M487.15 292.5h7.7M487.15 296.3h7.7"/><rect x="489.15" y="292.55" width="3.7" height="3.7" rx="0.9" stroke-width="1.15"/></g>
<g stroke="#2a8a2a"><path d="M503.15 299.1h7.7M503.15 302.9h7.7"/><rect x="505.15" y="299.15" width="3.7" height="3.7" rx="0.9" stroke-width="1.15"/></g>
<g stroke="#2a8a2a"><path d="M519.75 305.7h7.7M519.75 309.5h7.7"/><rect x="521.75" y="305.75" width="3.7" height="3.7" rx="0.9" stroke-width="1.15"/></g>
<g stroke="#2a2ad0"><path d="M478.6 289V289.75M478.6 293.45V294M474.75 289h7.7M474.75 294h7.7"/><rect x="476.75" y="289.75" width="3.7" height="3.7" rx="0.9" stroke-width="1.15"/></g>
<g stroke="#2a2ad0"><path d="M487.15 294.1h7.7M487.15 297.9h7.7"/><rect x="489.15" y="294.15" width="3.7" height="3.7" rx="0.9" stroke-width="1.15"/></g>
<g stroke="#2a2ad0"><path d="M496.15 297.7h7.7M496.15 301.5h7.7"/><rect x="498.15" y="297.75" width="3.7" height="3.7" rx="0.9" stroke-width="1.15"/></g>
<g stroke="#2a2ad0"><path d="M503.15 300.1h7.7M503.15 303.9h7.7"/><rect x="505.15" y="300.15" width="3.7" height="3.7" rx="0.9" stroke-width="1.15"/></g>
<g stroke="#2a2ad0"><path d="M514.4 301.5V302.15M514.4 305.85V306.5M510.55 301.5h7.7M510.55 306.5h7.7"/><rect x="512.55" y="302.15" width="3.7" height="3.7" rx="0.9" stroke-width="1.15"/></g>
<g stroke="#2a2ad0"><path d="M519.75 307.7h7.7M519.75 311.5h7.7"/><rect x="521.75" y="307.75" width="3.7" height="3.7" rx="0.9" stroke-width="1.15"/></g>
<g stroke="#2a2ad0"><path d="M532.55 310.1h7.7M532.55 313.9h7.7"/><rect x="534.55" y="310.15" width="3.7" height="3.7" rx="0.9" stroke-width="1.15"/></g>
<g stroke="#d33a3a"><path d="M74 442.3V443.15M74 446.85V448.3M70.15 442.3h7.7M70.15 448.3h7.7"/><rect x="72.15" y="443.15" width="3.7" height="3.7" rx="1.5" stroke-width="1.15"/></g>
<g stroke="#d33a3a"><path d="M95.45 444.4h7.7M95.45 448.2h7.7"/><rect x="97.45" y="444.45" width="3.7" height="3.7" rx="1.5" stroke-width="1.15"/></g>
<g stroke="#d33a3a"><path d="M114.15 435.5h7.7M114.15 439.3h7.7"/><rect x="116.15" y="435.55" width="3.7" height="3.7" rx="1.5" stroke-width="1.15"/></g>
<g stroke="#d33a3a"><path d="M126.25 429.6h7.7M126.25 433.4h7.7"/><rect x="128.25" y="429.65" width="3.7" height="3.7" rx="1.5" stroke-width="1.15"/></g>
<g stroke="#d33a3a"><path d="M135.45 427.7h7.7M135.45 431.5h7.7"/><rect x="137.45" y="427.75" width="3.7" height="3.7" rx="1.5" stroke-width="1.15"/></g>
<g stroke="#d33a3a"><path d="M146.15 427.3h7.7M146.15 431.1h7.7"/><rect x="148.15" y="427.35" width="3.7" height="3.7" rx="1.5" stroke-width="1.15"/></g>
<g stroke="#d33a3a"><path d="M158.35 433.9h7.7M158.35 437.7h7.7"/><rect x="160.35" y="433.95" width="3.7" height="3.7" rx="1.5" stroke-width="1.15"/></g>
<g stroke="#d33a3a"><path d="M176.45 443.1h7.7M176.45 446.9h7.7"/><rect x="178.45" y="443.15" width="3.7" height="3.7" rx="1.5" stroke-width="1.15"/></g>
<g stroke="#d33a3a"><path d="M206.3 443.7V444.45M206.3 448.15V449.7M202.45 443.7h7.7M202.45 449.7h7.7"/><rect x="204.45" y="444.45" width="3.7" height="3.7" rx="1.5" stroke-width="1.15"/></g>
<g stroke="#2a8a2a"><path d="M96 438.3V440.45M96 444.15V447M92.15 438.3h7.7M92.15 447h7.7"/><rect x="94.15" y="440.45" width="3.7" height="3.7" rx="0.9" stroke-width="1.15"/></g>
<g stroke="#2a8a2a"><path d="M111.3 439.7V441.15M111.3 444.85V447M107.45 439.7h7.7M107.45 447h7.7"/><rect x="109.45" y="441.15" width="3.7" height="3.7" rx="0.9" stroke-width="1.15"/></g>
<g stroke="#2a8a2a"><path d="M124.2 431V431.65M124.2 435.35V436.3M120.35 431h7.7M120.35 436.3h7.7"/><rect x="122.35" y="431.65" width="3.7" height="3.7" rx="0.9" stroke-width="1.15"/></g>
<g stroke="#2a8a2a"><path d="M129.35 425.6h7.7M129.35 429.4h7.7"/><rect x="131.35" y="425.65" width="3.7" height="3.7" rx="0.9" stroke-width="1.15"/></g>
<g stroke="#2a8a2a"><path d="M136.15 430.9h7.7M136.15 434.7h7.7"/><rect x="138.15" y="430.95" width="3.7" height="3.7" rx="0.9" stroke-width="1.15"/></g>
<g stroke="#2a8a2a"><path d="M143.35 429.9h7.7M143.35 433.7h7.7"/><rect x="145.35" y="429.95" width="3.7" height="3.7" rx="0.9" stroke-width="1.15"/></g>
<g stroke="#2a8a2a"><path d="M152.65 429.1h7.7M152.65 432.9h7.7"/><rect x="154.65" y="429.15" width="3.7" height="3.7" rx="0.9" stroke-width="1.15"/></g>
<g stroke="#2a8a2a"><path d="M165.15 430.4h7.7M165.15 434.2h7.7"/><rect x="167.15" y="430.45" width="3.7" height="3.7" rx="0.9" stroke-width="1.15"/></g>
<g stroke="#2a8a2a"><path d="M184.3 440.3V441.85M184.3 445.55V447M180.45 440.3h7.7M180.45 447h7.7"/><rect x="182.45" y="441.85" width="3.7" height="3.7" rx="0.9" stroke-width="1.15"/></g>
<g stroke="#2a2ad0"><path d="M96 425.4V427.15M96 430.85V433M92.15 425.4h7.7M92.15 433h7.7"/><rect x="94.15" y="427.15" width="3.7" height="3.7" rx="0.9" stroke-width="1.15"/></g>
<g stroke="#2a2ad0"><path d="M111.3 432.85V433.4M107.45 429h7.7M107.45 433.4h7.7"/><rect x="109.45" y="429.15" width="3.7" height="3.7" rx="0.9" stroke-width="1.15"/></g>
<g stroke="#2a2ad0"><path d="M119.75 424.6h7.7M119.75 428.3h7.7"/><rect x="121.75" y="424.45" width="3.7" height="3.7" rx="0.9" stroke-width="1.15"/></g>
<g stroke="#2a2ad0"><path d="M129.35 429.1h7.7M129.35 432.9h7.7"/><rect x="131.35" y="429.15" width="3.7" height="3.7" rx="0.9" stroke-width="1.15"/></g>
<g stroke="#2a2ad0"><path d="M140 421.75V423.65M140 427.35V428.9M136.15 421.75h7.7M136.15 428.9h7.7"/><rect x="138.15" y="423.65" width="3.7" height="3.7" rx="0.9" stroke-width="1.15"/></g>
<g stroke="#2a2ad0"><path d="M147.2 423.7V424.45M147.2 428.15V429M143.35 423.7h7.7M143.35 429h7.7"/><rect x="145.35" y="424.45" width="3.7" height="3.7" rx="0.9" stroke-width="1.15"/></g>
<g stroke="#2a2ad0"><path d="M156.5 431.45V432.3M152.65 427.7h7.7M152.65 432.3h7.7"/><rect x="154.65" y="427.75" width="3.7" height="3.7" rx="0.9" stroke-width="1.15"/></g>
<g stroke="#2a2ad0"><path d="M169 431.7V432.45M169 436.15V437M165.15 431.7h7.7M165.15 437h7.7"/><rect x="167.15" y="432.45" width="3.7" height="3.7" rx="0.9" stroke-width="1.15"/></g>
<g stroke="#2a2ad0"><path d="M184.3 428.3V429.45M184.3 433.15V434.3M180.45 428.3h7.7M180.45 434.3h7.7"/><rect x="182.45" y="429.45" width="3.7" height="3.7" rx="0.9" stroke-width="1.15"/></g>
<g stroke="#d33a3a"><path d="M69.45 463.8h7.7M69.45 467.6h7.7"/><rect x="71.45" y="463.85" width="3.7" height="3.7" rx="1.5" stroke-width="1.15"/></g>
<g stroke="#d33a3a"><path d="M95.65 461.6h7.7M95.65 465.4h7.7"/><rect x="97.65" y="461.65" width="3.7" height="3.7" rx="1.5" stroke-width="1.15"/></g>
<g stroke="#d33a3a"><path d="M114.15 468.6h7.7M114.15 472.4h7.7"/><rect x="116.15" y="468.65" width="3.7" height="3.7" rx="1.5" stroke-width="1.15"/></g>
<g stroke="#d33a3a"><path d="M126.15 479.1h7.7M126.15 482.9h7.7"/><rect x="128.15" y="479.15" width="3.7" height="3.7" rx="1.5" stroke-width="1.15"/></g>
<g stroke="#d33a3a"><path d="M145.15 496.6h7.7M145.15 500.4h7.7"/><rect x="147.15" y="496.65" width="3.7" height="3.7" rx="1.5" stroke-width="1.15"/></g>
<g stroke="#d33a3a"><path d="M158.65 507.6h7.7M158.65 511.4h7.7"/><rect x="160.65" y="507.65" width="3.7" height="3.7" rx="1.5" stroke-width="1.15"/></g>
<g stroke="#d33a3a"><path d="M176.65 515.6h7.7M176.65 519.4h7.7"/><rect x="178.65" y="515.65" width="3.7" height="3.7" rx="1.5" stroke-width="1.15"/></g>
<g stroke="#d33a3a"><path d="M202.25 515.8h7.7M202.25 519.6h7.7"/><rect x="204.25" y="515.85" width="3.7" height="3.7" rx="1.5" stroke-width="1.15"/></g>
<g stroke="#2a8a2a"><path d="M107.15 466.4h7.7M107.15 470.2h7.7"/><rect x="109.15" y="466.45" width="3.7" height="3.7" rx="0.9" stroke-width="1.15"/></g>
<g stroke="#2a8a2a"><path d="M120.15 472.6h7.7M120.15 476.4h7.7"/><rect x="122.15" y="472.65" width="3.7" height="3.7" rx="0.9" stroke-width="1.15"/></g>
<g stroke="#2a8a2a"><path d="M129.15 481.9h7.7M129.15 485.7h7.7"/><rect x="131.15" y="481.95" width="3.7" height="3.7" rx="0.9" stroke-width="1.15"/></g>
<g stroke="#2a8a2a"><path d="M136.65 487.6h7.7M136.65 491.4h7.7"/><rect x="138.65" y="487.65" width="3.7" height="3.7" rx="0.9" stroke-width="1.15"/></g>
<g stroke="#2a2ad0"><path d="M92.15 463.3h7.7M92.15 467.1h7.7"/><rect x="94.15" y="463.35" width="3.7" height="3.7" rx="0.9" stroke-width="1.15"/></g>
<g stroke="#2a2ad0"><path d="M107.15 466.9h7.7M107.15 470.7h7.7"/><rect x="109.15" y="466.95" width="3.7" height="3.7" rx="0.9" stroke-width="1.15"/></g>
<g stroke="#2a2ad0"><path d="M120.15 475.1h7.7M120.15 478.9h7.7"/><rect x="122.15" y="475.15" width="3.7" height="3.7" rx="0.9" stroke-width="1.15"/></g>
<g stroke="#2a2ad0"><path d="M129.15 478.3h7.7M129.15 482.1h7.7"/><rect x="131.15" y="478.35" width="3.7" height="3.7" rx="0.9" stroke-width="1.15"/></g>
<g stroke="#2a2ad0"><path d="M136.65 487.4h7.7M136.65 491.2h7.7"/><rect x="138.65" y="487.45" width="3.7" height="3.7" rx="0.9" stroke-width="1.15"/></g>
<g stroke="#2a2ad0"><path d="M143.15 495.6h7.7M143.15 499.4h7.7"/><rect x="145.15" y="495.65" width="3.7" height="3.7" rx="0.9" stroke-width="1.15"/></g>
<g stroke="#2a2ad0"><path d="M152.65 503.1h7.7M152.65 506.9h7.7"/><rect x="154.65" y="503.15" width="3.7" height="3.7" rx="0.9" stroke-width="1.15"/></g>
<g stroke="#2a2ad0"><path d="M165.15 513.1h7.7M165.15 516.9h7.7"/><rect x="167.15" y="513.15" width="3.7" height="3.7" rx="0.9" stroke-width="1.15"/></g>
<g stroke="#2a2ad0"><path d="M180.15 515.1h7.7M180.15 518.9h7.7"/><rect x="182.15" y="515.15" width="3.7" height="3.7" rx="0.9" stroke-width="1.15"/></g>
<g stroke="#d33a3a"><path d="M297.9 428.6h7.7M297.9 432.4h7.7"/><rect x="299.9" y="428.65" width="3.7" height="3.7" rx="1.5" stroke-width="1.15"/></g>
<g stroke="#d33a3a"><path d="M312.15 419.3h7.7M312.15 423.1h7.7"/><rect x="314.15" y="419.35" width="3.7" height="3.7" rx="1.5" stroke-width="1.15"/></g>
<g stroke="#d33a3a"><path d="M319.65 421.6h7.7M319.65 425.4h7.7"/><rect x="321.65" y="421.65" width="3.7" height="3.7" rx="1.5" stroke-width="1.15"/></g>
<g stroke="#d33a3a"><path d="M329.4 422.6h7.7M329.4 426.4h7.7"/><rect x="331.4" y="422.65" width="3.7" height="3.7" rx="1.5" stroke-width="1.15"/></g>
<g stroke="#d33a3a"><path d="M342.15 428.6h7.7M342.15 432.4h7.7"/><rect x="344.15" y="428.65" width="3.7" height="3.7" rx="1.5" stroke-width="1.15"/></g>
<g stroke="#2a8a2a"><path d="M307.3 425.6V426.5M303.45 421.85h7.7M303.45 426.5h7.7"/><rect x="305.45" y="421.9" width="3.7" height="3.7" rx="0.9" stroke-width="1.15"/></g>
<g stroke="#2a8a2a"><path d="M312.9 419.6h7.7M312.9 423.4h7.7"/><rect x="314.9" y="419.65" width="3.7" height="3.7" rx="0.9" stroke-width="1.15"/></g>
<g stroke="#2a8a2a"><path d="M319.65 418.85h7.7M319.65 422.65h7.7"/><rect x="321.65" y="418.9" width="3.7" height="3.7" rx="0.9" stroke-width="1.15"/></g>
<g stroke="#2a8a2a"><path d="M327.15 419.6h7.7M327.15 423.4h7.7"/><rect x="329.15" y="419.65" width="3.7" height="3.7" rx="0.9" stroke-width="1.15"/></g>
<g stroke="#2a8a2a"><path d="M340.4 428.25V428.95M340.4 432.65V433.5M336.55 428.25h7.7M336.55 433.5h7.7"/><rect x="338.55" y="428.95" width="3.7" height="3.7" rx="0.9" stroke-width="1.15"/></g>
<g stroke="#2a2ad0"><path d="M307.3 418.8V420.4M307.3 424.1V426M303.45 418.8h7.7M303.45 426h7.7"/><rect x="305.45" y="420.4" width="3.7" height="3.7" rx="0.9" stroke-width="1.15"/></g>
<g stroke="#2a2ad0"><path d="M316.75 424.2V425.65M316.75 429.35V431.7M312.9 424.2h7.7M312.9 431.7h7.7"/><rect x="314.9" y="425.65" width="3.7" height="3.7" rx="0.9" stroke-width="1.15"/></g>
<g stroke="#2a2ad0"><path d="M319.65 424.85h7.7M319.65 428.65h7.7"/><rect x="321.65" y="424.9" width="3.7" height="3.7" rx="0.9" stroke-width="1.15"/></g>
<g stroke="#2a2ad0"><path d="M327.15 423.35h7.7M327.15 427.15h7.7"/><rect x="329.15" y="423.4" width="3.7" height="3.7" rx="0.9" stroke-width="1.15"/></g>
<g stroke="#2a2ad0"><path d="M340.4 413.7V414.4M340.4 418.1V419.25M336.55 413.7h7.7M336.55 419.25h7.7"/><rect x="338.55" y="414.4" width="3.7" height="3.7" rx="0.9" stroke-width="1.15"/></g>
<g stroke="#d33a3a"><path d="M297.45 471.7h7.7M297.45 475.5h7.7"/><rect x="299.45" y="471.75" width="3.7" height="3.7" rx="1.5" stroke-width="1.15"/></g>
<g stroke="#d33a3a"><path d="M310.75 480.5h7.7M310.75 484.3h7.7"/><rect x="312.75" y="480.55" width="3.7" height="3.7" rx="1.5" stroke-width="1.15"/></g>
<g stroke="#d33a3a"><path d="M328.45 495.4h7.7M328.45 499.2h7.7"/><rect x="330.45" y="495.45" width="3.7" height="3.7" rx="1.5" stroke-width="1.15"/></g>
<g stroke="#d33a3a"><path d="M342.45 505.8h7.7M342.45 509.6h7.7"/><rect x="344.45" y="505.85" width="3.7" height="3.7" rx="1.5" stroke-width="1.15"/></g>
<g stroke="#2a8a2a"><path d="M304.05 474.1h7.7M304.05 477.9h7.7"/><rect x="306.05" y="474.15" width="3.7" height="3.7" rx="0.9" stroke-width="1.15"/></g>
<g stroke="#2a8a2a"><path d="M319.85 489.4h7.7M319.85 493.2h7.7"/><rect x="321.85" y="489.45" width="3.7" height="3.7" rx="0.9" stroke-width="1.15"/></g>
<g stroke="#2a8a2a"><path d="M335.85 502.8h7.7M335.85 506.6h7.7"/><rect x="337.85" y="502.85" width="3.7" height="3.7" rx="0.9" stroke-width="1.15"/></g>
<g stroke="#2a2ad0"><path d="M307 478.7V479.25M307 482.95V483.7M303.15 478.7h7.7M303.15 483.7h7.7"/><rect x="305.15" y="479.25" width="3.7" height="3.7" rx="0.9" stroke-width="1.15"/></g>
<g stroke="#2a2ad0"><path d="M313.15 480.8h7.7M313.15 484.6h7.7"/><rect x="315.15" y="480.85" width="3.7" height="3.7" rx="0.9" stroke-width="1.15"/></g>
<g stroke="#2a2ad0"><path d="M319.85 482.1h7.7M319.85 485.9h7.7"/><rect x="321.85" y="482.15" width="3.7" height="3.7" rx="0.9" stroke-width="1.15"/></g>
<g stroke="#2a2ad0"><path d="M326.45 493.8h7.7M326.45 497.6h7.7"/><rect x="328.45" y="493.85" width="3.7" height="3.7" rx="0.9" stroke-width="1.15"/></g>
<g stroke="#2a2ad0"><path d="M335.85 506.8h7.7M335.85 510.6h7.7"/><rect x="337.85" y="506.85" width="3.7" height="3.7" rx="0.9" stroke-width="1.15"/></g>
<g stroke="#d33a3a"><path d="M466.1 438.1V438.65M466.1 442.35V443M462.25 438.1h7.7M462.25 443h7.7"/><rect x="464.25" y="438.65" width="3.7" height="3.7" rx="1.5" stroke-width="1.15"/></g>
<g stroke="#d33a3a"><path d="M481.9 431.6h7.7M481.9 435.4h7.7"/><rect x="483.9" y="431.65" width="3.7" height="3.7" rx="1.5" stroke-width="1.15"/></g>
<g stroke="#d33a3a"><path d="M494.75 420.6h7.7M494.75 424.4h7.7"/><rect x="496.75" y="420.65" width="3.7" height="3.7" rx="1.5" stroke-width="1.15"/></g>
<g stroke="#d33a3a"><path d="M505.15 416.1h7.7M505.15 419.9h7.7"/><rect x="507.15" y="416.15" width="3.7" height="3.7" rx="1.5" stroke-width="1.15"/></g>
<g stroke="#d33a3a"><path d="M513.15 418.8h7.7M513.15 422.6h7.7"/><rect x="515.15" y="418.85" width="3.7" height="3.7" rx="1.5" stroke-width="1.15"/></g>
<g stroke="#d33a3a"><path d="M525.9 430.3h7.7M525.9 434.1h7.7"/><rect x="527.9" y="430.35" width="3.7" height="3.7" rx="1.5" stroke-width="1.15"/></g>
<g stroke="#d33a3a"><path d="M545.15 437.1h7.7M545.15 440.9h7.7"/><rect x="547.15" y="437.15" width="3.7" height="3.7" rx="1.5" stroke-width="1.15"/></g>
<g stroke="#2a8a2a"><path d="M478.8 427.6V429.45M478.8 433.15V435.7M474.95 427.6h7.7M474.95 435.7h7.7"/><rect x="476.95" y="429.45" width="3.7" height="3.7" rx="0.9" stroke-width="1.15"/></g>
<g stroke="#2a8a2a"><path d="M490.7 425.8V427.05M490.7 430.75V433.1M486.85 425.8h7.7M486.85 433.1h7.7"/><rect x="488.85" y="427.05" width="3.7" height="3.7" rx="0.9" stroke-width="1.15"/></g>
<g stroke="#2a8a2a"><path d="M500.4 422.5V423.4M500.4 427.1V428.5M496.55 422.5h7.7M496.55 428.5h7.7"/><rect x="498.55" y="423.4" width="3.7" height="3.7" rx="0.9" stroke-width="1.15"/></g>
<g stroke="#2a8a2a"><path d="M503.35 418.8h7.7M503.35 422.6h7.7"/><rect x="505.35" y="418.85" width="3.7" height="3.7" rx="0.9" stroke-width="1.15"/></g>
<g stroke="#2a8a2a"><path d="M510.65 419.7h7.7M510.65 423.5h7.7"/><rect x="512.65" y="419.75" width="3.7" height="3.7" rx="0.9" stroke-width="1.15"/></g>
<g stroke="#2a8a2a"><path d="M523.9 424.3V425.75M523.9 429.45V431.3M520.05 424.3h7.7M520.05 431.3h7.7"/><rect x="522.05" y="425.75" width="3.7" height="3.7" rx="0.9" stroke-width="1.15"/></g>
<g stroke="#2a8a2a"><path d="M536.5 434.4V437.55M536.5 441.25V444.1M532.65 434.4h7.7M532.65 444.1h7.7"/><rect x="534.65" y="437.55" width="3.7" height="3.7" rx="0.9" stroke-width="1.15"/></g>
<g stroke="#2a2ad0"><path d="M478.8 418.8V421.05M478.8 424.75V427.1M474.95 418.8h7.7M474.95 427.1h7.7"/><rect x="476.95" y="421.05" width="3.7" height="3.7" rx="0.9" stroke-width="1.15"/></g>
<g stroke="#2a2ad0"><path d="M490.7 418.5V419.75M490.7 423.45V425.25M486.85 418.5h7.7M486.85 425.25h7.7"/><rect x="488.85" y="419.75" width="3.7" height="3.7" rx="0.9" stroke-width="1.15"/></g>
<g stroke="#2a2ad0"><path d="M500.4 411.5V413.35M500.4 417.05V418.8M496.55 411.5h7.7M496.55 418.8h7.7"/><rect x="498.55" y="413.35" width="3.7" height="3.7" rx="0.9" stroke-width="1.15"/></g>
<g stroke="#2a2ad0"><path d="M507.2 410.6V412.4M507.2 416.1V417.9M503.35 410.6h7.7M503.35 417.9h7.7"/><rect x="505.35" y="412.4" width="3.7" height="3.7" rx="0.9" stroke-width="1.15"/></g>
<g stroke="#2a2ad0"><path d="M514.5 415V416.05M514.5 419.75V423M510.65 415h7.7M510.65 423h7.7"/><rect x="512.65" y="416.05" width="3.7" height="3.7" rx="0.9" stroke-width="1.15"/></g>
<g stroke="#2a2ad0"><path d="M523.9 415V416.05M523.9 419.75V421M520.05 415h7.7M520.05 421h7.7"/><rect x="522.05" y="416.05" width="3.7" height="3.7" rx="0.9" stroke-width="1.15"/></g>
<g stroke="#2a2ad0"><path d="M536.5 424.3V427.95M536.5 431.65V435.7M532.65 424.3h7.7M532.65 435.7h7.7"/><rect x="534.65" y="427.95" width="3.7" height="3.7" rx="0.9" stroke-width="1.15"/></g>
<g stroke="#d33a3a"><path d="M462.25 467.2h7.7M462.25 471h7.7"/><rect x="464.25" y="467.25" width="3.7" height="3.7" rx="1.5" stroke-width="1.15"/></g>
<g stroke="#d33a3a"><path d="M481.35 469.1h7.7M481.35 472.9h7.7"/><rect x="483.35" y="469.15" width="3.7" height="3.7" rx="1.5" stroke-width="1.15"/></g>
<g stroke="#d33a3a"><path d="M494.75 477.85h7.7M494.75 481.65h7.7"/><rect x="496.75" y="477.9" width="3.7" height="3.7" rx="1.5" stroke-width="1.15"/></g>
<g stroke="#d33a3a"><path d="M503.35 486.6h7.7M503.35 490.4h7.7"/><rect x="505.35" y="486.65" width="3.7" height="3.7" rx="1.5" stroke-width="1.15"/></g>
<g stroke="#d33a3a"><path d="M512.15 498.6h7.7M512.15 502.4h7.7"/><rect x="514.15" y="498.65" width="3.7" height="3.7" rx="1.5" stroke-width="1.15"/></g>
<g stroke="#d33a3a"><path d="M525.9 508.1h7.7M525.9 511.9h7.7"/><rect x="527.9" y="508.15" width="3.7" height="3.7" rx="1.5" stroke-width="1.15"/></g>
<g stroke="#d33a3a"><path d="M545.15 512.7h7.7M545.15 516.5h7.7"/><rect x="547.15" y="512.75" width="3.7" height="3.7" rx="1.5" stroke-width="1.15"/></g>
<g stroke="#2a8a2a"><path d="M474.95 467.4h7.7M474.95 471.2h7.7"/><rect x="476.95" y="467.45" width="3.7" height="3.7" rx="0.9" stroke-width="1.15"/></g>
<g stroke="#2a8a2a"><path d="M510.35 495.6h7.7M510.35 499.4h7.7"/><rect x="512.35" y="495.65" width="3.7" height="3.7" rx="0.9" stroke-width="1.15"/></g>
<g stroke="#2a8a2a"><path d="M520.05 510.85h7.7M520.05 514.65h7.7"/><rect x="522.05" y="510.9" width="3.7" height="3.7" rx="0.9" stroke-width="1.15"/></g>
<g stroke="#2a8a2a"><path d="M532.35 509h7.7M532.35 512.8h7.7"/><rect x="534.35" y="509.05" width="3.7" height="3.7" rx="0.9" stroke-width="1.15"/></g>
<g stroke="#2a2ad0"><path d="M478.8 463.25V463.75M474.95 463.25h7.7M474.95 467.5h7.7"/><rect x="476.95" y="463.75" width="3.7" height="3.7" rx="0.9" stroke-width="1.15"/></g>
<g stroke="#2a2ad0"><path d="M487.4 471.4h7.7M487.4 475.2h7.7"/><rect x="489.4" y="471.45" width="3.7" height="3.7" rx="0.9" stroke-width="1.15"/></g>
<g stroke="#2a2ad0"><path d="M500.4 476.1V476.95M500.4 480.65V482.1M496.55 476.1h7.7M496.55 482.1h7.7"/><rect x="498.55" y="476.95" width="3.7" height="3.7" rx="0.9" stroke-width="1.15"/></g>
<g stroke="#2a2ad0"><path d="M507.2 487.1V488.9M507.2 492.6V493.5M503.35 487.1h7.7M503.35 493.5h7.7"/><rect x="505.35" y="488.9" width="3.7" height="3.7" rx="0.9" stroke-width="1.15"/></g>
<g stroke="#2a2ad0"><path d="M514.2 496V497.15M514.2 500.85V502M510.35 496h7.7M510.35 502h7.7"/><rect x="512.35" y="497.15" width="3.7" height="3.7" rx="0.9" stroke-width="1.15"/></g>
<g stroke="#2a2ad0"><path d="M520.05 507.7h7.7M520.05 511.5h7.7"/><rect x="522.05" y="507.75" width="3.7" height="3.7" rx="0.9" stroke-width="1.15"/></g>
<g stroke="#2a2ad0"><path d="M536.2 511.8V513.65M536.2 517.35V518.8M532.35 511.8h7.7M532.35 518.8h7.7"/><rect x="534.35" y="513.65" width="3.7" height="3.7" rx="0.9" stroke-width="1.15"/></g>
<g stroke="#d33a3a"><path d="M117.8 625.45V625.9M113.95 621.8h7.7M113.95 625.9h7.7"/><rect x="115.95" y="621.75" width="3.7" height="3.7" rx="1.5" stroke-width="1.15"/></g>
<g stroke="#d33a3a"><path d="M127.95 614.7h7.7M127.95 618.5h7.7"/><rect x="129.95" y="614.75" width="3.7" height="3.7" rx="1.5" stroke-width="1.15"/></g>
<g stroke="#d33a3a"><path d="M136.15 616.4h7.7M136.15 620.2h7.7"/><rect x="138.15" y="616.45" width="3.7" height="3.7" rx="1.5" stroke-width="1.15"/></g>
<g stroke="#d33a3a"><path d="M144.9 613.5h7.7M144.9 617.3h7.7"/><rect x="146.9" y="613.55" width="3.7" height="3.7" rx="1.5" stroke-width="1.15"/></g>
<g stroke="#d33a3a"><path d="M162.2 621.25V621.75M162.2 625.45V625.9M158.35 621.25h7.7M158.35 625.9h7.7"/><rect x="160.35" y="621.75" width="3.7" height="3.7" rx="1.5" stroke-width="1.15"/></g>
<g stroke="#2a8a2a"><path d="M123.7 603.75V604.85M123.7 608.55V610.75M119.85 603.75h7.7M119.85 610.75h7.7"/><rect x="121.85" y="604.85" width="3.7" height="3.7" rx="0.9" stroke-width="1.15"/></g>
<g stroke="#2a8a2a"><path d="M129.15 614.6h7.7M129.15 618.4h7.7"/><rect x="131.15" y="614.65" width="3.7" height="3.7" rx="0.9" stroke-width="1.15"/></g>
<g stroke="#2a8a2a"><path d="M143.15 614.7h7.7M143.15 618.5h7.7"/><rect x="145.15" y="614.75" width="3.7" height="3.7" rx="0.9" stroke-width="1.15"/></g>
<g stroke="#2a8a2a"><path d="M156.9 612.6V613.7M153.05 608.85h7.7M153.05 613.7h7.7"/><rect x="155.05" y="608.9" width="3.7" height="3.7" rx="0.9" stroke-width="1.15"/></g>
<g stroke="#2a2ad0"><path d="M123.7 614.25V617.05M123.7 620.75V624.2M119.85 614.25h7.7M119.85 624.2h7.7"/><rect x="121.85" y="617.05" width="3.7" height="3.7" rx="0.9" stroke-width="1.15"/></g>
<g stroke="#2a2ad0"><path d="M133 613.7V614.15M133 617.85V618.9M129.15 613.7h7.7M129.15 618.9h7.7"/><rect x="131.15" y="614.15" width="3.7" height="3.7" rx="0.9" stroke-width="1.15"/></g>
<g stroke="#2a2ad0"><path d="M140 609V609.45M140 613.15V614.25M136.15 609h7.7M136.15 614.25h7.7"/><rect x="138.15" y="609.45" width="3.7" height="3.7" rx="0.9" stroke-width="1.15"/></g>
<g stroke="#2a2ad0"><path d="M147 611.45V611.9M143.15 607.6h7.7M143.15 611.9h7.7"/><rect x="145.15" y="607.75" width="3.7" height="3.7" rx="0.9" stroke-width="1.15"/></g>
<g stroke="#2a2ad0"><path d="M156.9 601.4V604.85M156.9 608.55V612.5M153.05 601.4h7.7M153.05 612.5h7.7"/><rect x="155.05" y="604.85" width="3.7" height="3.7" rx="0.9" stroke-width="1.15"/></g>
<g stroke="#d33a3a"><path d="M113.4 677.3h7.7M113.4 681.1h7.7"/><rect x="115.4" y="677.35" width="3.7" height="3.7" rx="1.5" stroke-width="1.15"/></g>
<g stroke="#d33a3a"><path d="M126.25 677.1h7.7M126.25 680.9h7.7"/><rect x="128.25" y="677.15" width="3.7" height="3.7" rx="1.5" stroke-width="1.15"/></g>
<g stroke="#d33a3a"><path d="M146.15 675.9h7.7M146.15 679.7h7.7"/><rect x="148.15" y="675.95" width="3.7" height="3.7" rx="1.5" stroke-width="1.15"/></g>
<g stroke="#d33a3a"><path d="M158.9 677.3h7.7M158.9 681.1h7.7"/><rect x="160.9" y="677.35" width="3.7" height="3.7" rx="1.5" stroke-width="1.15"/></g>
<g stroke="#2a8a2a"><path d="M119.85 677.6h7.7M119.85 681.4h7.7"/><rect x="121.85" y="677.65" width="3.7" height="3.7" rx="0.9" stroke-width="1.15"/></g>
<g stroke="#2a8a2a"><path d="M129.15 677.1h7.7M129.15 680.9h7.7"/><rect x="131.15" y="677.15" width="3.7" height="3.7" rx="0.9" stroke-width="1.15"/></g>
<g stroke="#2a8a2a"><path d="M136.15 677.1h7.7M136.15 680.9h7.7"/><rect x="138.15" y="677.15" width="3.7" height="3.7" rx="0.9" stroke-width="1.15"/></g>
<g stroke="#2a8a2a"><path d="M143.15 676.9h7.7M143.15 680.7h7.7"/><rect x="145.15" y="676.95" width="3.7" height="3.7" rx="0.9" stroke-width="1.15"/></g>
<g stroke="#2a8a2a"><path d="M153.05 677.1h7.7M153.05 680.9h7.7"/><rect x="155.05" y="677.15" width="3.7" height="3.7" rx="0.9" stroke-width="1.15"/></g>
<g stroke="#2a2ad0"><path d="M123.7 682.6V683.7M119.85 678.85h7.7M119.85 683.7h7.7"/><rect x="121.85" y="678.9" width="3.7" height="3.7" rx="0.9" stroke-width="1.15"/></g>
<g stroke="#2a2ad0"><path d="M129.15 676.9h7.7M129.15 680.7h7.7"/><rect x="131.15" y="676.95" width="3.7" height="3.7" rx="0.9" stroke-width="1.15"/></g>
<g stroke="#2a2ad0"><path d="M136.15 677.7h7.7M136.15 681.5h7.7"/><rect x="138.15" y="677.75" width="3.7" height="3.7" rx="0.9" stroke-width="1.15"/></g>
<g stroke="#2a2ad0"><path d="M142.55 673.75h7.7M142.55 677.25h7.7"/><rect x="144.55" y="673.65" width="3.7" height="3.7" rx="0.9" stroke-width="1.15"/></g>
<g stroke="#2a2ad0"><path d="M156.9 677.2V677.75M153.05 677.2h7.7M153.05 681h7.7"/><rect x="155.05" y="677.75" width="3.7" height="3.7" rx="0.9" stroke-width="1.15"/></g>
<g stroke="#d33a3a"><path d="M282.5 628.5V629.95M282.5 633.65V634.9M278.65 628.5h7.7M278.65 634.9h7.7"/><rect x="280.65" y="629.95" width="3.7" height="3.7" rx="1.5" stroke-width="1.15"/></g>
<g stroke="#d33a3a"><path d="M302 618.5V619.15M298.15 618.5h7.7M298.15 623h7.7"/><rect x="300.15" y="619.15" width="3.7" height="3.7" rx="1.5" stroke-width="1.15"/></g>
<g stroke="#d33a3a"><path d="M310.65 611.1h7.7M310.65 614.9h7.7"/><rect x="312.65" y="611.15" width="3.7" height="3.7" rx="1.5" stroke-width="1.15"/></g>
<g stroke="#d33a3a"><path d="M320.15 604.5h7.7M320.15 607.5h7.7"/><rect x="322.15" y="604.15" width="3.7" height="3.7" rx="1.5" stroke-width="1.15"/></g>
<g stroke="#d33a3a"><path d="M329.15 610.1h7.7M329.15 613.9h7.7"/><rect x="331.15" y="610.15" width="3.7" height="3.7" rx="1.5" stroke-width="1.15"/></g>
<g stroke="#d33a3a"><path d="M342.65 618.6h7.7M342.65 622.4h7.7"/><rect x="344.65" y="618.65" width="3.7" height="3.7" rx="1.5" stroke-width="1.15"/></g>
<g stroke="#d33a3a"><path d="M365 626.7V628.45M365 632.15V634.4M361.15 626.7h7.7M361.15 634.4h7.7"/><rect x="363.15" y="628.45" width="3.7" height="3.7" rx="1.5" stroke-width="1.15"/></g>
<g stroke="#2a8a2a"><path d="M303.65 613.1h7.7M303.65 616.9h7.7"/><rect x="305.65" y="613.15" width="3.7" height="3.7" rx="0.9" stroke-width="1.15"/></g>
<g stroke="#2a8a2a"><path d="M316.5 610V612.15M312.65 610h7.7M312.65 615.9h7.7"/><rect x="314.65" y="612.15" width="3.7" height="3.7" rx="0.9" stroke-width="1.15"/></g>
<g stroke="#2a8a2a"><path d="M320.15 609.1h7.7M320.15 612.9h7.7"/><rect x="322.15" y="609.15" width="3.7" height="3.7" rx="0.9" stroke-width="1.15"/></g>
<g stroke="#2a8a2a"><path d="M326.15 610.1h7.7M326.15 613.9h7.7"/><rect x="328.15" y="610.15" width="3.7" height="3.7" rx="0.9" stroke-width="1.15"/></g>
<g stroke="#2a8a2a"><path d="M340.5 609V609.65M336.65 609h7.7M336.65 613.4h7.7"/><rect x="338.65" y="609.65" width="3.7" height="3.7" rx="0.9" stroke-width="1.15"/></g>
<g stroke="#2a2ad0"><path d="M307.5 609.5V612.15M307.5 615.85V618.5M303.65 609.5h7.7M303.65 618.5h7.7"/><rect x="305.65" y="612.15" width="3.7" height="3.7" rx="0.9" stroke-width="1.15"/></g>
<g stroke="#2a2ad0"><path d="M316.5 618V622.65M316.5 626.35V630M312.65 618h7.7M312.65 630h7.7"/><rect x="314.65" y="622.65" width="3.7" height="3.7" rx="0.9" stroke-width="1.15"/></g>
<g stroke="#2a2ad0"><path d="M324 608V610.15M324 613.85V616M320.15 608h7.7M320.15 616h7.7"/><rect x="322.15" y="610.15" width="3.7" height="3.7" rx="0.9" stroke-width="1.15"/></g>
<g stroke="#2a2ad0"><path d="M330.5 611V614.65M330.5 618.35V621.5M326.65 611h7.7M326.65 621.5h7.7"/><rect x="328.65" y="614.65" width="3.7" height="3.7" rx="0.9" stroke-width="1.15"/></g>
<g stroke="#2a2ad0"><path d="M340.5 613V614.65M340.5 618.35V620M336.65 613h7.7M336.65 620h7.7"/><rect x="338.65" y="614.65" width="3.7" height="3.7" rx="0.9" stroke-width="1.15"/></g>
<g stroke="#d33a3a"><path d="M278.65 695.8h7.7M278.65 699.6h7.7"/><rect x="280.65" y="695.85" width="3.7" height="3.7" rx="1.5" stroke-width="1.15"/></g>
<g stroke="#d33a3a"><path d="M297.35 688.1h7.7M297.35 691.9h7.7"/><rect x="299.35" y="688.15" width="3.7" height="3.7" rx="1.5" stroke-width="1.15"/></g>
<g stroke="#d33a3a"><path d="M311.05 684.8h7.7M311.05 688.6h7.7"/><rect x="313.05" y="684.85" width="3.7" height="3.7" rx="1.5" stroke-width="1.15"/></g>
<g stroke="#d33a3a"><path d="M329.15 671.9h7.7M329.15 675.7h7.7"/><rect x="331.15" y="671.95" width="3.7" height="3.7" rx="1.5" stroke-width="1.15"/></g>
<g stroke="#d33a3a"><path d="M342.15 665.5h7.7M342.15 669.3h7.7"/><rect x="344.15" y="665.55" width="3.7" height="3.7" rx="1.5" stroke-width="1.15"/></g>
<g stroke="#d33a3a"><path d="M361.15 655.1h7.7M361.15 658.9h7.7"/><rect x="363.15" y="655.15" width="3.7" height="3.7" rx="1.5" stroke-width="1.15"/></g>
<g stroke="#2a8a2a"><path d="M303.75 684.1h7.7M303.75 687.9h7.7"/><rect x="305.75" y="684.15" width="3.7" height="3.7" rx="0.9" stroke-width="1.15"/></g>
<g stroke="#2a8a2a"><path d="M313.45 679.6h7.7M313.45 683.4h7.7"/><rect x="315.45" y="679.65" width="3.7" height="3.7" rx="0.9" stroke-width="1.15"/></g>
<g stroke="#2a8a2a"><path d="M327.55 671.9h7.7M327.55 675.7h7.7"/><rect x="329.55" y="671.95" width="3.7" height="3.7" rx="0.9" stroke-width="1.15"/></g>
<g stroke="#2a8a2a"><path d="M335.85 670.8h7.7M335.85 674.7h7.7"/><rect x="337.85" y="670.85" width="3.7" height="3.7" rx="0.9" stroke-width="1.15"/></g>
<g stroke="#2a2ad0"><path d="M307.5 685V685.65M307.5 689.35V690.3M303.65 685h7.7M303.65 690.3h7.7"/><rect x="305.65" y="685.65" width="3.7" height="3.7" rx="0.9" stroke-width="1.15"/></g>
<g stroke="#2a2ad0"><path d="M317.1 686.3V687.45M317.1 691.15V692.5M313.25 686.3h7.7M313.25 692.5h7.7"/><rect x="315.25" y="687.45" width="3.7" height="3.7" rx="0.9" stroke-width="1.15"/></g>
<g stroke="#2a2ad0"><path d="M323.5 676.6V677.45M323.5 681.15V682.6M319.65 676.6h7.7M319.65 682.6h7.7"/><rect x="321.65" y="677.45" width="3.7" height="3.7" rx="0.9" stroke-width="1.15"/></g>
<g stroke="#2a2ad0"><path d="M331 671.1V671.7M327.15 667.5h7.7M327.15 671.7h7.7"/><rect x="329.15" y="667.4" width="3.7" height="3.7" rx="0.9" stroke-width="1.15"/></g>
<g stroke="#2a2ad0"><path d="M339.7 670.05V670.8M335.85 666.3h7.7M335.85 670.8h7.7"/><rect x="337.85" y="666.35" width="3.7" height="3.7" rx="0.9" stroke-width="1.15"/></g>
<g stroke="#d33a3a"><path d="M474.2 610.6V621.05M474.2 624.75V635M470.35 610.6h7.7M470.35 635h7.7"/><rect x="472.35" y="621.05" width="3.7" height="3.7" rx="1.5" stroke-width="1.15"/></g>
<g stroke="#d33a3a"><path d="M489.4 629.85V631.3M485.55 626.1h7.7M485.55 631.3h7.7"/><rect x="487.55" y="626.15" width="3.7" height="3.7" rx="1.5" stroke-width="1.15"/></g>
<g stroke="#d33a3a"><path d="M520.35 628.7h7.7M520.35 632.5h7.7"/><rect x="522.35" y="628.45" width="3.7" height="3.7" rx="1.5" stroke-width="1.15"/></g>
<g stroke="#d33a3a"><path d="M539.8 632.6V633.85M539.8 637.55V639M535.95 632.6h7.7M535.95 639h7.7"/><rect x="537.95" y="633.85" width="3.7" height="3.7" rx="1.5" stroke-width="1.15"/></g>
<g stroke="#2a8a2a"><path d="M478.8 608.75V611.85M478.8 615.55V618.8M474.95 608.75h7.7M474.95 618.8h7.7"/><rect x="476.95" y="611.85" width="3.7" height="3.7" rx="0.9" stroke-width="1.15"/></g>
<g stroke="#2a8a2a"><path d="M490.7 608.75V609.65M490.7 613.35V614.25M486.85 608.75h7.7M486.85 614.25h7.7"/><rect x="488.85" y="609.65" width="3.7" height="3.7" rx="0.9" stroke-width="1.15"/></g>
<g stroke="#2a8a2a"><path d="M497.15 614.1h7.7M497.15 617.9h7.7"/><rect x="499.15" y="614.15" width="3.7" height="3.7" rx="0.9" stroke-width="1.15"/></g>
<g stroke="#2a8a2a"><path d="M503.35 616.1h7.7M503.35 619.9h7.7"/><rect x="505.35" y="616.15" width="3.7" height="3.7" rx="0.9" stroke-width="1.15"/></g>
<g stroke="#2a8a2a"><path d="M510.65 617.6h7.7M510.65 621.4h7.7"/><rect x="512.65" y="617.65" width="3.7" height="3.7" rx="0.9" stroke-width="1.15"/></g>
<g stroke="#2a8a2a"><path d="M520.4 625.1h7.7M520.4 628.9h7.7"/><rect x="522.4" y="625.15" width="3.7" height="3.7" rx="0.9" stroke-width="1.15"/></g>
<g stroke="#2a8a2a"><path d="M536.5 635.35V637.2M532.65 631.6h7.7M532.65 637.2h7.7"/><rect x="534.65" y="631.65" width="3.7" height="3.7" rx="0.9" stroke-width="1.15"/></g>
<g stroke="#2a2ad0"><path d="M478.8 628.9V631.25M478.8 634.95V637.5M474.95 628.9h7.7M474.95 637.5h7.7"/><rect x="476.95" y="631.25" width="3.7" height="3.7" rx="0.9" stroke-width="1.15"/></g>
<g stroke="#2a2ad0"><path d="M490.7 625.25V625.8M486.85 621.6h7.7M486.85 625.8h7.7"/><rect x="488.85" y="621.55" width="3.7" height="3.7" rx="0.9" stroke-width="1.15"/></g>
<g stroke="#2a2ad0"><path d="M501 608.75V611.15M501 614.85V617M497.15 608.75h7.7M497.15 617h7.7"/><rect x="499.15" y="611.15" width="3.7" height="3.7" rx="0.9" stroke-width="1.15"/></g>
<g stroke="#2a2ad0"><path d="M507.2 619.75V622.15M507.2 625.85V628.4M503.35 619.75h7.7M503.35 628.4h7.7"/><rect x="505.35" y="622.15" width="3.7" height="3.7" rx="0.9" stroke-width="1.15"/></g>
<g stroke="#2a2ad0"><path d="M514.5 617.9V619.15M514.5 622.85V624.7M510.65 617.9h7.7M510.65 624.7h7.7"/><rect x="512.65" y="619.15" width="3.7" height="3.7" rx="0.9" stroke-width="1.15"/></g>
<g stroke="#2a2ad0"><path d="M524.25 620.7V621.55M524.25 625.25V626.2M520.4 620.7h7.7M520.4 626.2h7.7"/><rect x="522.4" y="621.55" width="3.7" height="3.7" rx="0.9" stroke-width="1.15"/></g>
<g stroke="#2a2ad0"><path d="M536.5 624V626.55M536.5 630.25V633.5M532.65 624h7.7M532.65 633.5h7.7"/><rect x="534.65" y="626.55" width="3.7" height="3.7" rx="0.9" stroke-width="1.15"/></g>
<g stroke="#d33a3a"><path d="M474.2 682.5V684.35M474.2 688.05V690.75M470.35 682.5h7.7M470.35 690.75h7.7"/><rect x="472.35" y="684.35" width="3.7" height="3.7" rx="1.5" stroke-width="1.15"/></g>
<g stroke="#d33a3a"><path d="M490.7 687.1V688.3M486.85 683h7.7M486.85 688.3h7.7"/><rect x="488.85" y="683.4" width="3.7" height="3.7" rx="1.5" stroke-width="1.15"/></g>
<g stroke="#d33a3a"><path d="M522.15 669.6h7.7M522.15 673.4h7.7"/><rect x="524.15" y="669.65" width="3.7" height="3.7" rx="1.5" stroke-width="1.15"/></g>
<g stroke="#d33a3a"><path d="M536.95 669.4h7.7M536.95 673.2h7.7"/><rect x="538.95" y="669.45" width="3.7" height="3.7" rx="1.5" stroke-width="1.15"/></g>
<g stroke="#2a8a2a"><path d="M474.95 687h7.7M474.95 690.8h7.7"/><rect x="476.95" y="687.05" width="3.7" height="3.7" rx="0.9" stroke-width="1.15"/></g>
<g stroke="#2a8a2a"><path d="M490.7 683.3V684.15M490.7 687.85V689.2M486.85 683.3h7.7M486.85 689.2h7.7"/><rect x="488.85" y="684.15" width="3.7" height="3.7" rx="0.9" stroke-width="1.15"/></g>
<g stroke="#2a8a2a"><path d="M496.55 680.2h7.7M496.55 684h7.7"/><rect x="498.55" y="680.25" width="3.7" height="3.7" rx="0.9" stroke-width="1.15"/></g>
<g stroke="#2a8a2a"><path d="M503.35 676.8h7.7M503.35 680.6h7.7"/><rect x="505.35" y="676.85" width="3.7" height="3.7" rx="0.9" stroke-width="1.15"/></g>
<g stroke="#2a8a2a"><path d="M510.65 672.35h7.7M510.65 676.15h7.7"/><rect x="512.65" y="672.4" width="3.7" height="3.7" rx="0.9" stroke-width="1.15"/></g>
<g stroke="#2a8a2a"><path d="M520.4 671.4h7.7M520.4 675.2h7.7"/><rect x="522.4" y="671.45" width="3.7" height="3.7" rx="0.9" stroke-width="1.15"/></g>
<g stroke="#2a8a2a"><path d="M532.15 664.2h7.7M532.15 667.9h7.7"/><rect x="534.15" y="664.15" width="3.7" height="3.7" rx="0.9" stroke-width="1.15"/></g>
<g stroke="#2a2ad0"><path d="M478.8 687V688.65M474.95 687h7.7M474.95 692.5h7.7"/><rect x="476.95" y="688.65" width="3.7" height="3.7" rx="0.9" stroke-width="1.15"/></g>
<g stroke="#2a2ad0"><path d="M490.8 683.3V683.95M490.8 687.65V689.2M486.95 683.3h7.7M486.95 689.2h7.7"/><rect x="488.95" y="683.95" width="3.7" height="3.7" rx="0.9" stroke-width="1.15"/></g>
<g stroke="#2a2ad0"><path d="M496.55 672.9h7.7M496.55 676.7h7.7"/><rect x="498.55" y="672.95" width="3.7" height="3.7" rx="0.9" stroke-width="1.15"/></g>
<g stroke="#2a2ad0"><path d="M507.4 677.5V679.85M507.4 683.55V685M503.55 677.5h7.7M503.55 685h7.7"/><rect x="505.55" y="679.85" width="3.7" height="3.7" rx="0.9" stroke-width="1.15"/></g>
<g stroke="#2a2ad0"><path d="M514.3 672.5V673.95M514.3 677.65V679.2M510.45 672.5h7.7M510.45 679.2h7.7"/><rect x="512.45" y="673.95" width="3.7" height="3.7" rx="0.9" stroke-width="1.15"/></g>
<g stroke="#2a2ad0"><path d="M524.2 673.15V674.2M520.35 669.2h7.7M520.35 674.2h7.7"/><rect x="522.35" y="669.45" width="3.7" height="3.7" rx="0.9" stroke-width="1.15"/></g>
<g stroke="#2a2ad0"><path d="M536 665V666.45M536 670.15V671.7M532.15 665h7.7M532.15 671.7h7.7"/><rect x="534.15" y="666.45" width="3.7" height="3.7" rx="0.9" stroke-width="1.15"/></g>
</g>
<g fill="none" stroke="#000" stroke-width="0.9"><path d="M58.62 0.9v2.7M58.62 76.35v-2.7M58.62 76.35v2.7M58.62 151.5v-2.7M68.83 0.9v2.7M68.83 76.35v-2.7M68.83 76.35v2.7M68.83 151.5v-2.7M79.03 0.9v2.7M79.03 76.35v-2.7M79.03 76.35v2.7M79.03 151.5v-2.7M99.42 0.9v2.7M99.42 76.35v-2.7M99.42 76.35v2.7M99.42 151.5v-2.7M109.62 0.9v2.7M109.62 76.35v-2.7M109.62 76.35v2.7M109.62 151.5v-2.7M119.82 0.9v2.7M119.82 76.35v-2.7M119.82 76.35v2.7M119.82 151.5v-2.7M130.03 0.9v2.7M130.03 76.35v-2.7M130.03 76.35v2.7M130.03 151.5v-2.7M150.42 0.9v2.7M150.42 76.35v-2.7M150.42 76.35v2.7M150.42 151.5v-2.7M160.62 0.9v2.7M160.62 76.35v-2.7M160.62 76.35v2.7M160.62 151.5v-2.7M170.82 0.9v2.7M170.82 76.35v-2.7M170.82 76.35v2.7M170.82 151.5v-2.7M181.02 0.9v2.7M181.02 76.35v-2.7M181.02 76.35v2.7M181.02 151.5v-2.7M201.42 0.9v2.7M201.42 76.35v-2.7M201.42 76.35v2.7M201.42 151.5v-2.7M211.62 0.9v2.7M211.62 76.35v-2.7M211.62 76.35v2.7M211.62 151.5v-2.7M221.82 0.9v2.7M221.82 76.35v-2.7M221.82 76.35v2.7M221.82 151.5v-2.7M48.4 74.46h2.7M232.05 74.46h-2.7M48.4 72.58h2.7M232.05 72.58h-2.7M48.4 70.69h2.7M232.05 70.69h-2.7M48.4 68.81h2.7M232.05 68.81h-2.7M48.4 65.03h2.7M232.05 65.03h-2.7M48.4 63.15h2.7M232.05 63.15h-2.7M48.4 61.26h2.7M232.05 61.26h-2.7M48.4 59.37h2.7M232.05 59.37h-2.7M48.4 55.6h2.7M232.05 55.6h-2.7M48.4 53.72h2.7M232.05 53.72h-2.7M48.4 51.83h2.7M232.05 51.83h-2.7M48.4 49.94h2.7M232.05 49.94h-2.7M48.4 46.17h2.7M232.05 46.17h-2.7M48.4 44.28h2.7M232.05 44.28h-2.7M48.4 42.4h2.7M232.05 42.4h-2.7M48.4 40.51h2.7M232.05 40.51h-2.7M48.4 36.74h2.7M232.05 36.74h-2.7M48.4 34.85h2.7M232.05 34.85h-2.7M48.4 32.97h2.7M232.05 32.97h-2.7M48.4 31.08h2.7M232.05 31.08h-2.7M48.4 27.31h2.7M232.05 27.31h-2.7M48.4 25.42h2.7M232.05 25.42h-2.7M48.4 23.54h2.7M232.05 23.54h-2.7M48.4 21.65h2.7M232.05 21.65h-2.7M48.4 17.88h2.7M232.05 17.88h-2.7M48.4 15.99h2.7M232.05 15.99h-2.7M48.4 14.1h2.7M232.05 14.1h-2.7M48.4 12.22h2.7M232.05 12.22h-2.7M48.4 8.45h2.7M232.05 8.45h-2.7M48.4 6.56h2.7M232.05 6.56h-2.7M48.4 4.67h2.7M232.05 4.67h-2.7M48.4 2.79h2.7M232.05 2.79h-2.7M48.4 148.08h2.7M232.05 148.08h-2.7M48.4 144.67h2.7M232.05 144.67h-2.7M48.4 137.84h2.7M232.05 137.84h-2.7M48.4 134.42h2.7M232.05 134.42h-2.7M48.4 131h2.7M232.05 131h-2.7M48.4 124.17h2.7M232.05 124.17h-2.7M48.4 120.76h2.7M232.05 120.76h-2.7M48.4 117.34h2.7M232.05 117.34h-2.7M48.4 110.51h2.7M232.05 110.51h-2.7M48.4 107.09h2.7M232.05 107.09h-2.7M48.4 103.68h2.7M232.05 103.68h-2.7M48.4 96.85h2.7M232.05 96.85h-2.7M48.4 93.43h2.7M232.05 93.43h-2.7M48.4 90.01h2.7M232.05 90.01h-2.7M48.4 83.18h2.7M232.05 83.18h-2.7M48.4 79.77h2.7M232.05 79.77h-2.7M242.28 0.9v2.7M242.28 76.35v-2.7M242.28 76.35v2.7M242.28 151.5v-2.7M252.48 0.9v2.7M252.48 76.35v-2.7M252.48 76.35v2.7M252.48 151.5v-2.7M262.68 0.9v2.7M262.68 76.35v-2.7M262.68 76.35v2.7M262.68 151.5v-2.7M283.07 0.9v2.7M283.07 76.35v-2.7M283.07 76.35v2.7M283.07 151.5v-2.7M293.27 0.9v2.7M293.27 76.35v-2.7M293.27 76.35v2.7M293.27 151.5v-2.7M303.48 0.9v2.7M303.48 76.35v-2.7M303.48 76.35v2.7M303.48 151.5v-2.7M313.68 0.9v2.7M313.68 76.35v-2.7M313.68 76.35v2.7M313.68 151.5v-2.7M334.07 0.9v2.7M334.07 76.35v-2.7M334.07 76.35v2.7M334.07 151.5v-2.7M344.27 0.9v2.7M344.27 76.35v-2.7M344.27 76.35v2.7M344.27 151.5v-2.7M354.48 0.9v2.7M354.48 76.35v-2.7M354.48 76.35v2.7M354.48 151.5v-2.7M364.68 0.9v2.7M364.68 76.35v-2.7M364.68 76.35v2.7M364.68 151.5v-2.7M385.07 0.9v2.7M385.07 76.35v-2.7M385.07 76.35v2.7M385.07 151.5v-2.7M395.27 0.9v2.7M395.27 76.35v-2.7M395.27 76.35v2.7M395.27 151.5v-2.7M405.48 0.9v2.7M405.48 76.35v-2.7M405.48 76.35v2.7M405.48 151.5v-2.7M232.05 74.46h2.7M415.7 74.46h-2.7M232.05 72.58h2.7M415.7 72.58h-2.7M232.05 70.69h2.7M415.7 70.69h-2.7M232.05 68.81h2.7M415.7 68.81h-2.7M232.05 65.03h2.7M415.7 65.03h-2.7M232.05 63.15h2.7M415.7 63.15h-2.7M232.05 61.26h2.7M415.7 61.26h-2.7M232.05 59.37h2.7M415.7 59.37h-2.7M232.05 55.6h2.7M415.7 55.6h-2.7M232.05 53.72h2.7M415.7 53.72h-2.7M232.05 51.83h2.7M415.7 51.83h-2.7M232.05 49.94h2.7M415.7 49.94h-2.7M232.05 46.17h2.7M415.7 46.17h-2.7M232.05 44.28h2.7M415.7 44.28h-2.7M232.05 42.4h2.7M415.7 42.4h-2.7M232.05 40.51h2.7M415.7 40.51h-2.7M232.05 36.74h2.7M415.7 36.74h-2.7M232.05 34.85h2.7M415.7 34.85h-2.7M232.05 32.97h2.7M415.7 32.97h-2.7M232.05 31.08h2.7M415.7 31.08h-2.7M232.05 27.31h2.7M415.7 27.31h-2.7M232.05 25.42h2.7M415.7 25.42h-2.7M232.05 23.54h2.7M415.7 23.54h-2.7M232.05 21.65h2.7M415.7 21.65h-2.7M232.05 17.88h2.7M415.7 17.88h-2.7M232.05 15.99h2.7M415.7 15.99h-2.7M232.05 14.1h2.7M415.7 14.1h-2.7M232.05 12.22h2.7M415.7 12.22h-2.7M232.05 8.45h2.7M415.7 8.45h-2.7M232.05 6.56h2.7M415.7 6.56h-2.7M232.05 4.67h2.7M415.7 4.67h-2.7M232.05 2.79h2.7M415.7 2.79h-2.7M232.05 148.08h2.7M415.7 148.08h-2.7M232.05 144.67h2.7M415.7 144.67h-2.7M232.05 137.84h2.7M415.7 137.84h-2.7M232.05 134.42h2.7M415.7 134.42h-2.7M232.05 131h2.7M415.7 131h-2.7M232.05 124.17h2.7M415.7 124.17h-2.7M232.05 120.76h2.7M415.7 120.76h-2.7M232.05 117.34h2.7M415.7 117.34h-2.7M232.05 110.51h2.7M415.7 110.51h-2.7M232.05 107.09h2.7M415.7 107.09h-2.7M232.05 103.68h2.7M415.7 103.68h-2.7M232.05 96.85h2.7M415.7 96.85h-2.7M232.05 93.43h2.7M415.7 93.43h-2.7M232.05 90.01h2.7M415.7 90.01h-2.7M232.05 83.18h2.7M415.7 83.18h-2.7M232.05 79.77h2.7M415.7 79.77h-2.7M425.92 0.9v2.7M425.92 76.35v-2.7M425.92 76.35v2.7M425.92 151.5v-2.7M436.12 0.9v2.7M436.12 76.35v-2.7M436.12 76.35v2.7M436.12 151.5v-2.7M446.32 0.9v2.7M446.32 76.35v-2.7M446.32 76.35v2.7M446.32 151.5v-2.7M466.72 0.9v2.7M466.72 76.35v-2.7M466.72 76.35v2.7M466.72 151.5v-2.7M476.92 0.9v2.7M476.92 76.35v-2.7M476.92 76.35v2.7M476.92 151.5v-2.7M487.12 0.9v2.7M487.12 76.35v-2.7M487.12 76.35v2.7M487.12 151.5v-2.7M497.32 0.9v2.7M497.32 76.35v-2.7M497.32 76.35v2.7M497.32 151.5v-2.7M517.73 0.9v2.7M517.73 76.35v-2.7M517.73 76.35v2.7M517.73 151.5v-2.7M527.92 0.9v2.7M527.92 76.35v-2.7M527.92 76.35v2.7M527.92 151.5v-2.7M538.12 0.9v2.7M538.12 76.35v-2.7M538.12 76.35v2.7M538.12 151.5v-2.7M548.32 0.9v2.7M548.32 76.35v-2.7M548.32 76.35v2.7M548.32 151.5v-2.7M568.73 0.9v2.7M568.73 76.35v-2.7M568.73 76.35v2.7M568.73 151.5v-2.7M578.92 0.9v2.7M578.92 76.35v-2.7M578.92 76.35v2.7M578.92 151.5v-2.7M589.12 0.9v2.7M589.12 76.35v-2.7M589.12 76.35v2.7M589.12 151.5v-2.7M415.7 74.46h2.7M599.35 74.46h-2.7M415.7 72.58h2.7M599.35 72.58h-2.7M415.7 70.69h2.7M599.35 70.69h-2.7M415.7 68.81h2.7M599.35 68.81h-2.7M415.7 65.03h2.7M599.35 65.03h-2.7M415.7 63.15h2.7M599.35 63.15h-2.7M415.7 61.26h2.7M599.35 61.26h-2.7M415.7 59.37h2.7M599.35 59.37h-2.7M415.7 55.6h2.7M599.35 55.6h-2.7M415.7 53.72h2.7M599.35 53.72h-2.7M415.7 51.83h2.7M599.35 51.83h-2.7M415.7 49.94h2.7M599.35 49.94h-2.7M415.7 46.17h2.7M599.35 46.17h-2.7M415.7 44.28h2.7M599.35 44.28h-2.7M415.7 42.4h2.7M599.35 42.4h-2.7M415.7 40.51h2.7M599.35 40.51h-2.7M415.7 36.74h2.7M599.35 36.74h-2.7M415.7 34.85h2.7M599.35 34.85h-2.7M415.7 32.97h2.7M599.35 32.97h-2.7M415.7 31.08h2.7M599.35 31.08h-2.7M415.7 27.31h2.7M599.35 27.31h-2.7M415.7 25.42h2.7M599.35 25.42h-2.7M415.7 23.54h2.7M599.35 23.54h-2.7M415.7 21.65h2.7M599.35 21.65h-2.7M415.7 17.88h2.7M599.35 17.88h-2.7M415.7 15.99h2.7M599.35 15.99h-2.7M415.7 14.1h2.7M599.35 14.1h-2.7M415.7 12.22h2.7M599.35 12.22h-2.7M415.7 8.45h2.7M599.35 8.45h-2.7M415.7 6.56h2.7M599.35 6.56h-2.7M415.7 4.67h2.7M599.35 4.67h-2.7M415.7 2.79h2.7M599.35 2.79h-2.7M415.7 148.08h2.7M599.35 148.08h-2.7M415.7 144.67h2.7M599.35 144.67h-2.7M415.7 137.84h2.7M599.35 137.84h-2.7M415.7 134.42h2.7M599.35 134.42h-2.7M415.7 131h2.7M599.35 131h-2.7M415.7 124.17h2.7M599.35 124.17h-2.7M415.7 120.76h2.7M599.35 120.76h-2.7M415.7 117.34h2.7M599.35 117.34h-2.7M415.7 110.51h2.7M599.35 110.51h-2.7M415.7 107.09h2.7M599.35 107.09h-2.7M415.7 103.68h2.7M599.35 103.68h-2.7M415.7 96.85h2.7M599.35 96.85h-2.7M415.7 93.43h2.7M599.35 93.43h-2.7M415.7 90.01h2.7M599.35 90.01h-2.7M415.7 83.18h2.7M599.35 83.18h-2.7M415.7 79.77h2.7M599.35 79.77h-2.7M58.62 189.25v2.7M58.62 264.7v-2.7M58.62 264.7v2.7M58.62 339.85v-2.7M68.83 189.25v2.7M68.83 264.7v-2.7M68.83 264.7v2.7M68.83 339.85v-2.7M79.03 189.25v2.7M79.03 264.7v-2.7M79.03 264.7v2.7M79.03 339.85v-2.7M99.42 189.25v2.7M99.42 264.7v-2.7M99.42 264.7v2.7M99.42 339.85v-2.7M109.62 189.25v2.7M109.62 264.7v-2.7M109.62 264.7v2.7M109.62 339.85v-2.7M119.82 189.25v2.7M119.82 264.7v-2.7M119.82 264.7v2.7M119.82 339.85v-2.7M130.03 189.25v2.7M130.03 264.7v-2.7M130.03 264.7v2.7M130.03 339.85v-2.7M150.42 189.25v2.7M150.42 264.7v-2.7M150.42 264.7v2.7M150.42 339.85v-2.7M160.62 189.25v2.7M160.62 264.7v-2.7M160.62 264.7v2.7M160.62 339.85v-2.7M170.82 189.25v2.7M170.82 264.7v-2.7M170.82 264.7v2.7M170.82 339.85v-2.7M181.02 189.25v2.7M181.02 264.7v-2.7M181.02 264.7v2.7M181.02 339.85v-2.7M201.42 189.25v2.7M201.42 264.7v-2.7M201.42 264.7v2.7M201.42 339.85v-2.7M211.62 189.25v2.7M211.62 264.7v-2.7M211.62 264.7v2.7M211.62 339.85v-2.7M221.82 189.25v2.7M221.82 264.7v-2.7M221.82 264.7v2.7M221.82 339.85v-2.7M48.4 262.81h2.7M232.05 262.81h-2.7M48.4 260.93h2.7M232.05 260.93h-2.7M48.4 259.04h2.7M232.05 259.04h-2.7M48.4 257.15h2.7M232.05 257.15h-2.7M48.4 253.38h2.7M232.05 253.38h-2.7M48.4 251.5h2.7M232.05 251.5h-2.7M48.4 249.61h2.7M232.05 249.61h-2.7M48.4 247.72h2.7M232.05 247.72h-2.7M48.4 243.95h2.7M232.05 243.95h-2.7M48.4 242.06h2.7M232.05 242.06h-2.7M48.4 240.18h2.7M232.05 240.18h-2.7M48.4 238.29h2.7M232.05 238.29h-2.7M48.4 234.52h2.7M232.05 234.52h-2.7M48.4 232.63h2.7M232.05 232.63h-2.7M48.4 230.75h2.7M232.05 230.75h-2.7M48.4 228.86h2.7M232.05 228.86h-2.7M48.4 225.09h2.7M232.05 225.09h-2.7M48.4 223.2h2.7M232.05 223.2h-2.7M48.4 221.32h2.7M232.05 221.32h-2.7M48.4 219.43h2.7M232.05 219.43h-2.7M48.4 215.66h2.7M232.05 215.66h-2.7M48.4 213.77h2.7M232.05 213.77h-2.7M48.4 211.88h2.7M232.05 211.88h-2.7M48.4 210h2.7M232.05 210h-2.7M48.4 206.23h2.7M232.05 206.23h-2.7M48.4 204.34h2.7M232.05 204.34h-2.7M48.4 202.45h2.7M232.05 202.45h-2.7M48.4 200.57h2.7M232.05 200.57h-2.7M48.4 196.79h2.7M232.05 196.79h-2.7M48.4 194.91h2.7M232.05 194.91h-2.7M48.4 193.02h2.7M232.05 193.02h-2.7M48.4 191.14h2.7M232.05 191.14h-2.7M48.4 336.43h2.7M232.05 336.43h-2.7M48.4 333.02h2.7M232.05 333.02h-2.7M48.4 326.19h2.7M232.05 326.19h-2.7M48.4 322.77h2.7M232.05 322.77h-2.7M48.4 319.35h2.7M232.05 319.35h-2.7M48.4 312.52h2.7M232.05 312.52h-2.7M48.4 309.11h2.7M232.05 309.11h-2.7M48.4 305.69h2.7M232.05 305.69h-2.7M48.4 298.86h2.7M232.05 298.86h-2.7M48.4 295.44h2.7M232.05 295.44h-2.7M48.4 292.03h2.7M232.05 292.03h-2.7M48.4 285.2h2.7M232.05 285.2h-2.7M48.4 281.78h2.7M232.05 281.78h-2.7M48.4 278.36h2.7M232.05 278.36h-2.7M48.4 271.53h2.7M232.05 271.53h-2.7M48.4 268.12h2.7M232.05 268.12h-2.7M242.28 189.25v2.7M242.28 264.7v-2.7M242.28 264.7v2.7M242.28 339.85v-2.7M252.48 189.25v2.7M252.48 264.7v-2.7M252.48 264.7v2.7M252.48 339.85v-2.7M262.68 189.25v2.7M262.68 264.7v-2.7M262.68 264.7v2.7M262.68 339.85v-2.7M283.07 189.25v2.7M283.07 264.7v-2.7M283.07 264.7v2.7M283.07 339.85v-2.7M293.27 189.25v2.7M293.27 264.7v-2.7M293.27 264.7v2.7M293.27 339.85v-2.7M303.48 189.25v2.7M303.48 264.7v-2.7M303.48 264.7v2.7M303.48 339.85v-2.7M313.68 189.25v2.7M313.68 264.7v-2.7M313.68 264.7v2.7M313.68 339.85v-2.7M334.07 189.25v2.7M334.07 264.7v-2.7M334.07 264.7v2.7M334.07 339.85v-2.7M344.27 189.25v2.7M344.27 264.7v-2.7M344.27 264.7v2.7M344.27 339.85v-2.7M354.48 189.25v2.7M354.48 264.7v-2.7M354.48 264.7v2.7M354.48 339.85v-2.7M364.68 189.25v2.7M364.68 264.7v-2.7M364.68 264.7v2.7M364.68 339.85v-2.7M385.07 189.25v2.7M385.07 264.7v-2.7M385.07 264.7v2.7M385.07 339.85v-2.7M395.27 189.25v2.7M395.27 264.7v-2.7M395.27 264.7v2.7M395.27 339.85v-2.7M405.48 189.25v2.7M405.48 264.7v-2.7M405.48 264.7v2.7M405.48 339.85v-2.7M232.05 262.81h2.7M415.7 262.81h-2.7M232.05 260.93h2.7M415.7 260.93h-2.7M232.05 259.04h2.7M415.7 259.04h-2.7M232.05 257.15h2.7M415.7 257.15h-2.7M232.05 253.38h2.7M415.7 253.38h-2.7M232.05 251.5h2.7M415.7 251.5h-2.7M232.05 249.61h2.7M415.7 249.61h-2.7M232.05 247.72h2.7M415.7 247.72h-2.7M232.05 243.95h2.7M415.7 243.95h-2.7M232.05 242.06h2.7M415.7 242.06h-2.7M232.05 240.18h2.7M415.7 240.18h-2.7M232.05 238.29h2.7M415.7 238.29h-2.7M232.05 234.52h2.7M415.7 234.52h-2.7M232.05 232.63h2.7M415.7 232.63h-2.7M232.05 230.75h2.7M415.7 230.75h-2.7M232.05 228.86h2.7M415.7 228.86h-2.7M232.05 225.09h2.7M415.7 225.09h-2.7M232.05 223.2h2.7M415.7 223.2h-2.7M232.05 221.32h2.7M415.7 221.32h-2.7M232.05 219.43h2.7M415.7 219.43h-2.7M232.05 215.66h2.7M415.7 215.66h-2.7M232.05 213.77h2.7M415.7 213.77h-2.7M232.05 211.88h2.7M415.7 211.88h-2.7M232.05 210h2.7M415.7 210h-2.7M232.05 206.23h2.7M415.7 206.23h-2.7M232.05 204.34h2.7M415.7 204.34h-2.7M232.05 202.45h2.7M415.7 202.45h-2.7M232.05 200.57h2.7M415.7 200.57h-2.7M232.05 196.79h2.7M415.7 196.79h-2.7M232.05 194.91h2.7M415.7 194.91h-2.7M232.05 193.02h2.7M415.7 193.02h-2.7M232.05 191.14h2.7M415.7 191.14h-2.7M232.05 336.43h2.7M415.7 336.43h-2.7M232.05 333.02h2.7M415.7 333.02h-2.7M232.05 326.19h2.7M415.7 326.19h-2.7M232.05 322.77h2.7M415.7 322.77h-2.7M232.05 319.35h2.7M415.7 319.35h-2.7M232.05 312.52h2.7M415.7 312.52h-2.7M232.05 309.11h2.7M415.7 309.11h-2.7M232.05 305.69h2.7M415.7 305.69h-2.7M232.05 298.86h2.7M415.7 298.86h-2.7M232.05 295.44h2.7M415.7 295.44h-2.7M232.05 292.03h2.7M415.7 292.03h-2.7M232.05 285.2h2.7M415.7 285.2h-2.7M232.05 281.78h2.7M415.7 281.78h-2.7M232.05 278.36h2.7M415.7 278.36h-2.7M232.05 271.53h2.7M415.7 271.53h-2.7M232.05 268.12h2.7M415.7 268.12h-2.7M425.92 189.25v2.7M425.92 264.7v-2.7M425.92 264.7v2.7M425.92 339.85v-2.7M436.12 189.25v2.7M436.12 264.7v-2.7M436.12 264.7v2.7M436.12 339.85v-2.7M446.32 189.25v2.7M446.32 264.7v-2.7M446.32 264.7v2.7M446.32 339.85v-2.7M466.72 189.25v2.7M466.72 264.7v-2.7M466.72 264.7v2.7M466.72 339.85v-2.7M476.92 189.25v2.7M476.92 264.7v-2.7M476.92 264.7v2.7M476.92 339.85v-2.7M487.12 189.25v2.7M487.12 264.7v-2.7M487.12 264.7v2.7M487.12 339.85v-2.7M497.32 189.25v2.7M497.32 264.7v-2.7M497.32 264.7v2.7M497.32 339.85v-2.7M517.73 189.25v2.7M517.73 264.7v-2.7M517.73 264.7v2.7M517.73 339.85v-2.7M527.92 189.25v2.7M527.92 264.7v-2.7M527.92 264.7v2.7M527.92 339.85v-2.7M538.12 189.25v2.7M538.12 264.7v-2.7M538.12 264.7v2.7M538.12 339.85v-2.7M548.32 189.25v2.7M548.32 264.7v-2.7M548.32 264.7v2.7M548.32 339.85v-2.7M568.73 189.25v2.7M568.73 264.7v-2.7M568.73 264.7v2.7M568.73 339.85v-2.7M578.92 189.25v2.7M578.92 264.7v-2.7M578.92 264.7v2.7M578.92 339.85v-2.7M589.12 189.25v2.7M589.12 264.7v-2.7M589.12 264.7v2.7M589.12 339.85v-2.7M415.7 262.81h2.7M599.35 262.81h-2.7M415.7 260.93h2.7M599.35 260.93h-2.7M415.7 259.04h2.7M599.35 259.04h-2.7M415.7 257.15h2.7M599.35 257.15h-2.7M415.7 253.38h2.7M599.35 253.38h-2.7M415.7 251.5h2.7M599.35 251.5h-2.7M415.7 249.61h2.7M599.35 249.61h-2.7M415.7 247.72h2.7M599.35 247.72h-2.7M415.7 243.95h2.7M599.35 243.95h-2.7M415.7 242.06h2.7M599.35 242.06h-2.7M415.7 240.18h2.7M599.35 240.18h-2.7M415.7 238.29h2.7M599.35 238.29h-2.7M415.7 234.52h2.7M599.35 234.52h-2.7M415.7 232.63h2.7M599.35 232.63h-2.7M415.7 230.75h2.7M599.35 230.75h-2.7M415.7 228.86h2.7M599.35 228.86h-2.7M415.7 225.09h2.7M599.35 225.09h-2.7M415.7 223.2h2.7M599.35 223.2h-2.7M415.7 221.32h2.7M599.35 221.32h-2.7M415.7 219.43h2.7M599.35 219.43h-2.7M415.7 215.66h2.7M599.35 215.66h-2.7M415.7 213.77h2.7M599.35 213.77h-2.7M415.7 211.88h2.7M599.35 211.88h-2.7M415.7 210h2.7M599.35 210h-2.7M415.7 206.23h2.7M599.35 206.23h-2.7M415.7 204.34h2.7M599.35 204.34h-2.7M415.7 202.45h2.7M599.35 202.45h-2.7M415.7 200.57h2.7M599.35 200.57h-2.7M415.7 196.79h2.7M599.35 196.79h-2.7M415.7 194.91h2.7M599.35 194.91h-2.7M415.7 193.02h2.7M599.35 193.02h-2.7M415.7 191.14h2.7M599.35 191.14h-2.7M415.7 336.43h2.7M599.35 336.43h-2.7M415.7 333.02h2.7M599.35 333.02h-2.7M415.7 326.19h2.7M599.35 326.19h-2.7M415.7 322.77h2.7M599.35 322.77h-2.7M415.7 319.35h2.7M599.35 319.35h-2.7M415.7 312.52h2.7M599.35 312.52h-2.7M415.7 309.11h2.7M599.35 309.11h-2.7M415.7 305.69h2.7M599.35 305.69h-2.7M415.7 298.86h2.7M599.35 298.86h-2.7M415.7 295.44h2.7M599.35 295.44h-2.7M415.7 292.03h2.7M599.35 292.03h-2.7M415.7 285.2h2.7M599.35 285.2h-2.7M415.7 281.78h2.7M599.35 281.78h-2.7M415.7 278.36h2.7M599.35 278.36h-2.7M415.7 271.53h2.7M599.35 271.53h-2.7M415.7 268.12h2.7M599.35 268.12h-2.7M58.62 377.6v2.7M58.62 453.05v-2.7M58.62 453.05v2.7M58.62 528.2v-2.7M68.83 377.6v2.7M68.83 453.05v-2.7M68.83 453.05v2.7M68.83 528.2v-2.7M79.03 377.6v2.7M79.03 453.05v-2.7M79.03 453.05v2.7M79.03 528.2v-2.7M99.42 377.6v2.7M99.42 453.05v-2.7M99.42 453.05v2.7M99.42 528.2v-2.7M109.62 377.6v2.7M109.62 453.05v-2.7M109.62 453.05v2.7M109.62 528.2v-2.7M119.82 377.6v2.7M119.82 453.05v-2.7M119.82 453.05v2.7M119.82 528.2v-2.7M130.03 377.6v2.7M130.03 453.05v-2.7M130.03 453.05v2.7M130.03 528.2v-2.7M150.42 377.6v2.7M150.42 453.05v-2.7M150.42 453.05v2.7M150.42 528.2v-2.7M160.62 377.6v2.7M160.62 453.05v-2.7M160.62 453.05v2.7M160.62 528.2v-2.7M170.82 377.6v2.7M170.82 453.05v-2.7M170.82 453.05v2.7M170.82 528.2v-2.7M181.02 377.6v2.7M181.02 453.05v-2.7M181.02 453.05v2.7M181.02 528.2v-2.7M201.42 377.6v2.7M201.42 453.05v-2.7M201.42 453.05v2.7M201.42 528.2v-2.7M211.62 377.6v2.7M211.62 453.05v-2.7M211.62 453.05v2.7M211.62 528.2v-2.7M221.82 377.6v2.7M221.82 453.05v-2.7M221.82 453.05v2.7M221.82 528.2v-2.7M48.4 451.16h2.7M232.05 451.16h-2.7M48.4 449.28h2.7M232.05 449.28h-2.7M48.4 447.39h2.7M232.05 447.39h-2.7M48.4 445.5h2.7M232.05 445.5h-2.7M48.4 441.73h2.7M232.05 441.73h-2.7M48.4 439.85h2.7M232.05 439.85h-2.7M48.4 437.96h2.7M232.05 437.96h-2.7M48.4 436.07h2.7M232.05 436.07h-2.7M48.4 432.3h2.7M232.05 432.3h-2.7M48.4 430.41h2.7M232.05 430.41h-2.7M48.4 428.53h2.7M232.05 428.53h-2.7M48.4 426.64h2.7M232.05 426.64h-2.7M48.4 422.87h2.7M232.05 422.87h-2.7M48.4 420.98h2.7M232.05 420.98h-2.7M48.4 419.1h2.7M232.05 419.1h-2.7M48.4 417.21h2.7M232.05 417.21h-2.7M48.4 413.44h2.7M232.05 413.44h-2.7M48.4 411.55h2.7M232.05 411.55h-2.7M48.4 409.67h2.7M232.05 409.67h-2.7M48.4 407.78h2.7M232.05 407.78h-2.7M48.4 404.01h2.7M232.05 404.01h-2.7M48.4 402.12h2.7M232.05 402.12h-2.7M48.4 400.23h2.7M232.05 400.23h-2.7M48.4 398.35h2.7M232.05 398.35h-2.7M48.4 394.58h2.7M232.05 394.58h-2.7M48.4 392.69h2.7M232.05 392.69h-2.7M48.4 390.8h2.7M232.05 390.8h-2.7M48.4 388.92h2.7M232.05 388.92h-2.7M48.4 385.14h2.7M232.05 385.14h-2.7M48.4 383.26h2.7M232.05 383.26h-2.7M48.4 381.37h2.7M232.05 381.37h-2.7M48.4 379.49h2.7M232.05 379.49h-2.7M48.4 524.78h2.7M232.05 524.78h-2.7M48.4 521.37h2.7M232.05 521.37h-2.7M48.4 514.54h2.7M232.05 514.54h-2.7M48.4 511.12h2.7M232.05 511.12h-2.7M48.4 507.7h2.7M232.05 507.7h-2.7M48.4 500.87h2.7M232.05 500.87h-2.7M48.4 497.46h2.7M232.05 497.46h-2.7M48.4 494.04h2.7M232.05 494.04h-2.7M48.4 487.21h2.7M232.05 487.21h-2.7M48.4 483.79h2.7M232.05 483.79h-2.7M48.4 480.38h2.7M232.05 480.38h-2.7M48.4 473.55h2.7M232.05 473.55h-2.7M48.4 470.13h2.7M232.05 470.13h-2.7M48.4 466.71h2.7M232.05 466.71h-2.7M48.4 459.88h2.7M232.05 459.88h-2.7M48.4 456.47h2.7M232.05 456.47h-2.7M242.28 377.6v2.7M242.28 453.05v-2.7M242.28 453.05v2.7M242.28 528.2v-2.7M252.48 377.6v2.7M252.48 453.05v-2.7M252.48 453.05v2.7M252.48 528.2v-2.7M262.68 377.6v2.7M262.68 453.05v-2.7M262.68 453.05v2.7M262.68 528.2v-2.7M283.07 377.6v2.7M283.07 453.05v-2.7M283.07 453.05v2.7M283.07 528.2v-2.7M293.27 377.6v2.7M293.27 453.05v-2.7M293.27 453.05v2.7M293.27 528.2v-2.7M303.48 377.6v2.7M303.48 453.05v-2.7M303.48 453.05v2.7M303.48 528.2v-2.7M313.68 377.6v2.7M313.68 453.05v-2.7M313.68 453.05v2.7M313.68 528.2v-2.7M334.07 377.6v2.7M334.07 453.05v-2.7M334.07 453.05v2.7M334.07 528.2v-2.7M344.27 377.6v2.7M344.27 453.05v-2.7M344.27 453.05v2.7M344.27 528.2v-2.7M354.48 377.6v2.7M354.48 453.05v-2.7M354.48 453.05v2.7M354.48 528.2v-2.7M364.68 377.6v2.7M364.68 453.05v-2.7M364.68 453.05v2.7M364.68 528.2v-2.7M385.07 377.6v2.7M385.07 453.05v-2.7M385.07 453.05v2.7M385.07 528.2v-2.7M395.27 377.6v2.7M395.27 453.05v-2.7M395.27 453.05v2.7M395.27 528.2v-2.7M405.48 377.6v2.7M405.48 453.05v-2.7M405.48 453.05v2.7M405.48 528.2v-2.7M232.05 451.16h2.7M415.7 451.16h-2.7M232.05 449.28h2.7M415.7 449.28h-2.7M232.05 447.39h2.7M415.7 447.39h-2.7M232.05 445.5h2.7M415.7 445.5h-2.7M232.05 441.73h2.7M415.7 441.73h-2.7M232.05 439.85h2.7M415.7 439.85h-2.7M232.05 437.96h2.7M415.7 437.96h-2.7M232.05 436.07h2.7M415.7 436.07h-2.7M232.05 432.3h2.7M415.7 432.3h-2.7M232.05 430.41h2.7M415.7 430.41h-2.7M232.05 428.53h2.7M415.7 428.53h-2.7M232.05 426.64h2.7M415.7 426.64h-2.7M232.05 422.87h2.7M415.7 422.87h-2.7M232.05 420.98h2.7M415.7 420.98h-2.7M232.05 419.1h2.7M415.7 419.1h-2.7M232.05 417.21h2.7M415.7 417.21h-2.7M232.05 413.44h2.7M415.7 413.44h-2.7M232.05 411.55h2.7M415.7 411.55h-2.7M232.05 409.67h2.7M415.7 409.67h-2.7M232.05 407.78h2.7M415.7 407.78h-2.7M232.05 404.01h2.7M415.7 404.01h-2.7M232.05 402.12h2.7M415.7 402.12h-2.7M232.05 400.23h2.7M415.7 400.23h-2.7M232.05 398.35h2.7M415.7 398.35h-2.7M232.05 394.58h2.7M415.7 394.58h-2.7M232.05 392.69h2.7M415.7 392.69h-2.7M232.05 390.8h2.7M415.7 390.8h-2.7M232.05 388.92h2.7M415.7 388.92h-2.7M232.05 385.14h2.7M415.7 385.14h-2.7M232.05 383.26h2.7M415.7 383.26h-2.7M232.05 381.37h2.7M415.7 381.37h-2.7M232.05 379.49h2.7M415.7 379.49h-2.7M232.05 524.78h2.7M415.7 524.78h-2.7M232.05 521.37h2.7M415.7 521.37h-2.7M232.05 514.54h2.7M415.7 514.54h-2.7M232.05 511.12h2.7M415.7 511.12h-2.7M232.05 507.7h2.7M415.7 507.7h-2.7M232.05 500.87h2.7M415.7 500.87h-2.7M232.05 497.46h2.7M415.7 497.46h-2.7M232.05 494.04h2.7M415.7 494.04h-2.7M232.05 487.21h2.7M415.7 487.21h-2.7M232.05 483.79h2.7M415.7 483.79h-2.7M232.05 480.38h2.7M415.7 480.38h-2.7M232.05 473.55h2.7M415.7 473.55h-2.7M232.05 470.13h2.7M415.7 470.13h-2.7M232.05 466.71h2.7M415.7 466.71h-2.7M232.05 459.88h2.7M415.7 459.88h-2.7M232.05 456.47h2.7M415.7 456.47h-2.7M425.92 377.6v2.7M425.92 453.05v-2.7M425.92 453.05v2.7M425.92 528.2v-2.7M436.12 377.6v2.7M436.12 453.05v-2.7M436.12 453.05v2.7M436.12 528.2v-2.7M446.32 377.6v2.7M446.32 453.05v-2.7M446.32 453.05v2.7M446.32 528.2v-2.7M466.72 377.6v2.7M466.72 453.05v-2.7M466.72 453.05v2.7M466.72 528.2v-2.7M476.92 377.6v2.7M476.92 453.05v-2.7M476.92 453.05v2.7M476.92 528.2v-2.7M487.12 377.6v2.7M487.12 453.05v-2.7M487.12 453.05v2.7M487.12 528.2v-2.7M497.32 377.6v2.7M497.32 453.05v-2.7M497.32 453.05v2.7M497.32 528.2v-2.7M517.73 377.6v2.7M517.73 453.05v-2.7M517.73 453.05v2.7M517.73 528.2v-2.7M527.92 377.6v2.7M527.92 453.05v-2.7M527.92 453.05v2.7M527.92 528.2v-2.7M538.12 377.6v2.7M538.12 453.05v-2.7M538.12 453.05v2.7M538.12 528.2v-2.7M548.32 377.6v2.7M548.32 453.05v-2.7M548.32 453.05v2.7M548.32 528.2v-2.7M568.73 377.6v2.7M568.73 453.05v-2.7M568.73 453.05v2.7M568.73 528.2v-2.7M578.92 377.6v2.7M578.92 453.05v-2.7M578.92 453.05v2.7M578.92 528.2v-2.7M589.12 377.6v2.7M589.12 453.05v-2.7M589.12 453.05v2.7M589.12 528.2v-2.7M415.7 451.16h2.7M599.35 451.16h-2.7M415.7 449.28h2.7M599.35 449.28h-2.7M415.7 447.39h2.7M599.35 447.39h-2.7M415.7 445.5h2.7M599.35 445.5h-2.7M415.7 441.73h2.7M599.35 441.73h-2.7M415.7 439.85h2.7M599.35 439.85h-2.7M415.7 437.96h2.7M599.35 437.96h-2.7M415.7 436.07h2.7M599.35 436.07h-2.7M415.7 432.3h2.7M599.35 432.3h-2.7M415.7 430.41h2.7M599.35 430.41h-2.7M415.7 428.53h2.7M599.35 428.53h-2.7M415.7 426.64h2.7M599.35 426.64h-2.7M415.7 422.87h2.7M599.35 422.87h-2.7M415.7 420.98h2.7M599.35 420.98h-2.7M415.7 419.1h2.7M599.35 419.1h-2.7M415.7 417.21h2.7M599.35 417.21h-2.7M415.7 413.44h2.7M599.35 413.44h-2.7M415.7 411.55h2.7M599.35 411.55h-2.7M415.7 409.67h2.7M599.35 409.67h-2.7M415.7 407.78h2.7M599.35 407.78h-2.7M415.7 404.01h2.7M599.35 404.01h-2.7M415.7 402.12h2.7M599.35 402.12h-2.7M415.7 400.23h2.7M599.35 400.23h-2.7M415.7 398.35h2.7M599.35 398.35h-2.7M415.7 394.58h2.7M599.35 394.58h-2.7M415.7 392.69h2.7M599.35 392.69h-2.7M415.7 390.8h2.7M599.35 390.8h-2.7M415.7 388.92h2.7M599.35 388.92h-2.7M415.7 385.14h2.7M599.35 385.14h-2.7M415.7 383.26h2.7M599.35 383.26h-2.7M415.7 381.37h2.7M599.35 381.37h-2.7M415.7 379.49h2.7M599.35 379.49h-2.7M415.7 524.78h2.7M599.35 524.78h-2.7M415.7 521.37h2.7M599.35 521.37h-2.7M415.7 514.54h2.7M599.35 514.54h-2.7M415.7 511.12h2.7M599.35 511.12h-2.7M415.7 507.7h2.7M599.35 507.7h-2.7M415.7 500.87h2.7M599.35 500.87h-2.7M415.7 497.46h2.7M599.35 497.46h-2.7M415.7 494.04h2.7M599.35 494.04h-2.7M415.7 487.21h2.7M599.35 487.21h-2.7M415.7 483.79h2.7M599.35 483.79h-2.7M415.7 480.38h2.7M599.35 480.38h-2.7M415.7 473.55h2.7M599.35 473.55h-2.7M415.7 470.13h2.7M599.35 470.13h-2.7M415.7 466.71h2.7M599.35 466.71h-2.7M415.7 459.88h2.7M599.35 459.88h-2.7M415.7 456.47h2.7M599.35 456.47h-2.7M58.62 565.95v2.7M58.62 641.4v-2.7M58.62 641.4v2.7M58.62 716.55v-2.7M68.83 565.95v2.7M68.83 641.4v-2.7M68.83 641.4v2.7M68.83 716.55v-2.7M79.03 565.95v2.7M79.03 641.4v-2.7M79.03 641.4v2.7M79.03 716.55v-2.7M99.42 565.95v2.7M99.42 641.4v-2.7M99.42 641.4v2.7M99.42 716.55v-2.7M109.62 565.95v2.7M109.62 641.4v-2.7M109.62 641.4v2.7M109.62 716.55v-2.7M119.82 565.95v2.7M119.82 641.4v-2.7M119.82 641.4v2.7M119.82 716.55v-2.7M130.03 565.95v2.7M130.03 641.4v-2.7M130.03 641.4v2.7M130.03 716.55v-2.7M150.42 565.95v2.7M150.42 641.4v-2.7M150.42 641.4v2.7M150.42 716.55v-2.7M160.62 565.95v2.7M160.62 641.4v-2.7M160.62 641.4v2.7M160.62 716.55v-2.7M170.82 565.95v2.7M170.82 641.4v-2.7M170.82 641.4v2.7M170.82 716.55v-2.7M181.02 565.95v2.7M181.02 641.4v-2.7M181.02 641.4v2.7M181.02 716.55v-2.7M201.42 565.95v2.7M201.42 641.4v-2.7M201.42 641.4v2.7M201.42 716.55v-2.7M211.62 565.95v2.7M211.62 641.4v-2.7M211.62 641.4v2.7M211.62 716.55v-2.7M221.82 565.95v2.7M221.82 641.4v-2.7M221.82 641.4v2.7M221.82 716.55v-2.7M48.4 639.51h2.7M232.05 639.51h-2.7M48.4 637.63h2.7M232.05 637.63h-2.7M48.4 635.74h2.7M232.05 635.74h-2.7M48.4 633.86h2.7M232.05 633.86h-2.7M48.4 630.08h2.7M232.05 630.08h-2.7M48.4 628.2h2.7M232.05 628.2h-2.7M48.4 626.31h2.7M232.05 626.31h-2.7M48.4 624.42h2.7M232.05 624.42h-2.7M48.4 620.65h2.7M232.05 620.65h-2.7M48.4 618.76h2.7M232.05 618.76h-2.7M48.4 616.88h2.7M232.05 616.88h-2.7M48.4 614.99h2.7M232.05 614.99h-2.7M48.4 611.22h2.7M232.05 611.22h-2.7M48.4 609.33h2.7M232.05 609.33h-2.7M48.4 607.45h2.7M232.05 607.45h-2.7M48.4 605.56h2.7M232.05 605.56h-2.7M48.4 601.79h2.7M232.05 601.79h-2.7M48.4 599.9h2.7M232.05 599.9h-2.7M48.4 598.02h2.7M232.05 598.02h-2.7M48.4 596.13h2.7M232.05 596.13h-2.7M48.4 592.36h2.7M232.05 592.36h-2.7M48.4 590.47h2.7M232.05 590.47h-2.7M48.4 588.58h2.7M232.05 588.58h-2.7M48.4 586.7h2.7M232.05 586.7h-2.7M48.4 582.93h2.7M232.05 582.93h-2.7M48.4 581.04h2.7M232.05 581.04h-2.7M48.4 579.15h2.7M232.05 579.15h-2.7M48.4 577.27h2.7M232.05 577.27h-2.7M48.4 573.5h2.7M232.05 573.5h-2.7M48.4 571.61h2.7M232.05 571.61h-2.7M48.4 569.72h2.7M232.05 569.72h-2.7M48.4 567.84h2.7M232.05 567.84h-2.7M48.4 713.13h2.7M232.05 713.13h-2.7M48.4 709.72h2.7M232.05 709.72h-2.7M48.4 702.89h2.7M232.05 702.89h-2.7M48.4 699.47h2.7M232.05 699.47h-2.7M48.4 696.05h2.7M232.05 696.05h-2.7M48.4 689.22h2.7M232.05 689.22h-2.7M48.4 685.81h2.7M232.05 685.81h-2.7M48.4 682.39h2.7M232.05 682.39h-2.7M48.4 675.56h2.7M232.05 675.56h-2.7M48.4 672.14h2.7M232.05 672.14h-2.7M48.4 668.73h2.7M232.05 668.73h-2.7M48.4 661.9h2.7M232.05 661.9h-2.7M48.4 658.48h2.7M232.05 658.48h-2.7M48.4 655.06h2.7M232.05 655.06h-2.7M48.4 648.23h2.7M232.05 648.23h-2.7M48.4 644.82h2.7M232.05 644.82h-2.7M242.28 565.95v2.7M242.28 641.4v-2.7M242.28 641.4v2.7M242.28 716.55v-2.7M252.48 565.95v2.7M252.48 641.4v-2.7M252.48 641.4v2.7M252.48 716.55v-2.7M262.68 565.95v2.7M262.68 641.4v-2.7M262.68 641.4v2.7M262.68 716.55v-2.7M283.07 565.95v2.7M283.07 641.4v-2.7M283.07 641.4v2.7M283.07 716.55v-2.7M293.27 565.95v2.7M293.27 641.4v-2.7M293.27 641.4v2.7M293.27 716.55v-2.7M303.48 565.95v2.7M303.48 641.4v-2.7M303.48 641.4v2.7M303.48 716.55v-2.7M313.68 565.95v2.7M313.68 641.4v-2.7M313.68 641.4v2.7M313.68 716.55v-2.7M334.07 565.95v2.7M334.07 641.4v-2.7M334.07 641.4v2.7M334.07 716.55v-2.7M344.27 565.95v2.7M344.27 641.4v-2.7M344.27 641.4v2.7M344.27 716.55v-2.7M354.48 565.95v2.7M354.48 641.4v-2.7M354.48 641.4v2.7M354.48 716.55v-2.7M364.68 565.95v2.7M364.68 641.4v-2.7M364.68 641.4v2.7M364.68 716.55v-2.7M385.07 565.95v2.7M385.07 641.4v-2.7M385.07 641.4v2.7M385.07 716.55v-2.7M395.27 565.95v2.7M395.27 641.4v-2.7M395.27 641.4v2.7M395.27 716.55v-2.7M405.48 565.95v2.7M405.48 641.4v-2.7M405.48 641.4v2.7M405.48 716.55v-2.7M232.05 639.51h2.7M415.7 639.51h-2.7M232.05 637.63h2.7M415.7 637.63h-2.7M232.05 635.74h2.7M415.7 635.74h-2.7M232.05 633.86h2.7M415.7 633.86h-2.7M232.05 630.08h2.7M415.7 630.08h-2.7M232.05 628.2h2.7M415.7 628.2h-2.7M232.05 626.31h2.7M415.7 626.31h-2.7M232.05 624.42h2.7M415.7 624.42h-2.7M232.05 620.65h2.7M415.7 620.65h-2.7M232.05 618.76h2.7M415.7 618.76h-2.7M232.05 616.88h2.7M415.7 616.88h-2.7M232.05 614.99h2.7M415.7 614.99h-2.7M232.05 611.22h2.7M415.7 611.22h-2.7M232.05 609.33h2.7M415.7 609.33h-2.7M232.05 607.45h2.7M415.7 607.45h-2.7M232.05 605.56h2.7M415.7 605.56h-2.7M232.05 601.79h2.7M415.7 601.79h-2.7M232.05 599.9h2.7M415.7 599.9h-2.7M232.05 598.02h2.7M415.7 598.02h-2.7M232.05 596.13h2.7M415.7 596.13h-2.7M232.05 592.36h2.7M415.7 592.36h-2.7M232.05 590.47h2.7M415.7 590.47h-2.7M232.05 588.58h2.7M415.7 588.58h-2.7M232.05 586.7h2.7M415.7 586.7h-2.7M232.05 582.93h2.7M415.7 582.93h-2.7M232.05 581.04h2.7M415.7 581.04h-2.7M232.05 579.15h2.7M415.7 579.15h-2.7M232.05 577.27h2.7M415.7 577.27h-2.7M232.05 573.5h2.7M415.7 573.5h-2.7M232.05 571.61h2.7M415.7 571.61h-2.7M232.05 569.72h2.7M415.7 569.72h-2.7M232.05 567.84h2.7M415.7 567.84h-2.7M232.05 713.13h2.7M415.7 713.13h-2.7M232.05 709.72h2.7M415.7 709.72h-2.7M232.05 702.89h2.7M415.7 702.89h-2.7M232.05 699.47h2.7M415.7 699.47h-2.7M232.05 696.05h2.7M415.7 696.05h-2.7M232.05 689.22h2.7M415.7 689.22h-2.7M232.05 685.81h2.7M415.7 685.81h-2.7M232.05 682.39h2.7M415.7 682.39h-2.7M232.05 675.56h2.7M415.7 675.56h-2.7M232.05 672.14h2.7M415.7 672.14h-2.7M232.05 668.73h2.7M415.7 668.73h-2.7M232.05 661.9h2.7M415.7 661.9h-2.7M232.05 658.48h2.7M415.7 658.48h-2.7M232.05 655.06h2.7M415.7 655.06h-2.7M232.05 648.23h2.7M415.7 648.23h-2.7M232.05 644.82h2.7M415.7 644.82h-2.7M425.92 565.95v2.7M425.92 641.4v-2.7M425.92 641.4v2.7M425.92 716.55v-2.7M436.12 565.95v2.7M436.12 641.4v-2.7M436.12 641.4v2.7M436.12 716.55v-2.7M446.32 565.95v2.7M446.32 641.4v-2.7M446.32 641.4v2.7M446.32 716.55v-2.7M466.72 565.95v2.7M466.72 641.4v-2.7M466.72 641.4v2.7M466.72 716.55v-2.7M476.92 565.95v2.7M476.92 641.4v-2.7M476.92 641.4v2.7M476.92 716.55v-2.7M487.12 565.95v2.7M487.12 641.4v-2.7M487.12 641.4v2.7M487.12 716.55v-2.7M497.32 565.95v2.7M497.32 641.4v-2.7M497.32 641.4v2.7M497.32 716.55v-2.7M517.73 565.95v2.7M517.73 641.4v-2.7M517.73 641.4v2.7M517.73 716.55v-2.7M527.92 565.95v2.7M527.92 641.4v-2.7M527.92 641.4v2.7M527.92 716.55v-2.7M538.12 565.95v2.7M538.12 641.4v-2.7M538.12 641.4v2.7M538.12 716.55v-2.7M548.32 565.95v2.7M548.32 641.4v-2.7M548.32 641.4v2.7M548.32 716.55v-2.7M568.73 565.95v2.7M568.73 641.4v-2.7M568.73 641.4v2.7M568.73 716.55v-2.7M578.92 565.95v2.7M578.92 641.4v-2.7M578.92 641.4v2.7M578.92 716.55v-2.7M589.12 565.95v2.7M589.12 641.4v-2.7M589.12 641.4v2.7M589.12 716.55v-2.7M415.7 639.51h2.7M599.35 639.51h-2.7M415.7 637.63h2.7M599.35 637.63h-2.7M415.7 635.74h2.7M599.35 635.74h-2.7M415.7 633.86h2.7M599.35 633.86h-2.7M415.7 630.08h2.7M599.35 630.08h-2.7M415.7 628.2h2.7M599.35 628.2h-2.7M415.7 626.31h2.7M599.35 626.31h-2.7M415.7 624.42h2.7M599.35 624.42h-2.7M415.7 620.65h2.7M599.35 620.65h-2.7M415.7 618.76h2.7M599.35 618.76h-2.7M415.7 616.88h2.7M599.35 616.88h-2.7M415.7 614.99h2.7M599.35 614.99h-2.7M415.7 611.22h2.7M599.35 611.22h-2.7M415.7 609.33h2.7M599.35 609.33h-2.7M415.7 607.45h2.7M599.35 607.45h-2.7M415.7 605.56h2.7M599.35 605.56h-2.7M415.7 601.79h2.7M599.35 601.79h-2.7M415.7 599.9h2.7M599.35 599.9h-2.7M415.7 598.02h2.7M599.35 598.02h-2.7M415.7 596.13h2.7M599.35 596.13h-2.7M415.7 592.36h2.7M599.35 592.36h-2.7M415.7 590.47h2.7M599.35 590.47h-2.7M415.7 588.58h2.7M599.35 588.58h-2.7M415.7 586.7h2.7M599.35 586.7h-2.7M415.7 582.93h2.7M599.35 582.93h-2.7M415.7 581.04h2.7M599.35 581.04h-2.7M415.7 579.15h2.7M599.35 579.15h-2.7M415.7 577.27h2.7M599.35 577.27h-2.7M415.7 573.5h2.7M599.35 573.5h-2.7M415.7 571.61h2.7M599.35 571.61h-2.7M415.7 569.72h2.7M599.35 569.72h-2.7M415.7 567.84h2.7M599.35 567.84h-2.7M415.7 713.13h2.7M599.35 713.13h-2.7M415.7 709.72h2.7M599.35 709.72h-2.7M415.7 702.89h2.7M599.35 702.89h-2.7M415.7 699.47h2.7M599.35 699.47h-2.7M415.7 696.05h2.7M599.35 696.05h-2.7M415.7 689.22h2.7M599.35 689.22h-2.7M415.7 685.81h2.7M599.35 685.81h-2.7M415.7 682.39h2.7M599.35 682.39h-2.7M415.7 675.56h2.7M599.35 675.56h-2.7M415.7 672.14h2.7M599.35 672.14h-2.7M415.7 668.73h2.7M599.35 668.73h-2.7M415.7 661.9h2.7M599.35 661.9h-2.7M415.7 658.48h2.7M599.35 658.48h-2.7M415.7 655.06h2.7M599.35 655.06h-2.7M415.7 648.23h2.7M599.35 648.23h-2.7M415.7 644.82h2.7M599.35 644.82h-2.7"/></g>
<g fill="none" stroke="#000" stroke-width="1.0"><path d="M89.22 0.9v4.8M89.22 76.35v-4.8M89.22 76.35v4.8M89.22 151.5v-4.8M140.22 0.9v4.8M140.22 76.35v-4.8M140.22 76.35v4.8M140.22 151.5v-4.8M191.22 0.9v4.8M191.22 76.35v-4.8M191.22 76.35v4.8M191.22 151.5v-4.8M48.4 66.92h4.8M232.05 66.92h-4.8M48.4 57.49h4.8M232.05 57.49h-4.8M48.4 48.06h4.8M232.05 48.06h-4.8M48.4 38.63h4.8M232.05 38.63h-4.8M48.4 29.19h4.8M232.05 29.19h-4.8M48.4 19.76h4.8M232.05 19.76h-4.8M48.4 10.33h4.8M232.05 10.33h-4.8M48.4 141.25h4.8M232.05 141.25h-4.8M48.4 127.59h4.8M232.05 127.59h-4.8M48.4 113.93h4.8M232.05 113.93h-4.8M48.4 100.26h4.8M232.05 100.26h-4.8M48.4 86.6h4.8M232.05 86.6h-4.8M272.88 0.9v4.8M272.88 76.35v-4.8M272.88 76.35v4.8M272.88 151.5v-4.8M323.88 0.9v4.8M323.88 76.35v-4.8M323.88 76.35v4.8M323.88 151.5v-4.8M374.88 0.9v4.8M374.88 76.35v-4.8M374.88 76.35v4.8M374.88 151.5v-4.8M232.05 66.92h4.8M415.7 66.92h-4.8M232.05 57.49h4.8M415.7 57.49h-4.8M232.05 48.06h4.8M415.7 48.06h-4.8M232.05 38.63h4.8M415.7 38.63h-4.8M232.05 29.19h4.8M415.7 29.19h-4.8M232.05 19.76h4.8M415.7 19.76h-4.8M232.05 10.33h4.8M415.7 10.33h-4.8M232.05 141.25h4.8M415.7 141.25h-4.8M232.05 127.59h4.8M415.7 127.59h-4.8M232.05 113.93h4.8M415.7 113.93h-4.8M232.05 100.26h4.8M415.7 100.26h-4.8M232.05 86.6h4.8M415.7 86.6h-4.8M456.52 0.9v4.8M456.52 76.35v-4.8M456.52 76.35v4.8M456.52 151.5v-4.8M507.52 0.9v4.8M507.52 76.35v-4.8M507.52 76.35v4.8M507.52 151.5v-4.8M558.52 0.9v4.8M558.52 76.35v-4.8M558.52 76.35v4.8M558.52 151.5v-4.8M415.7 66.92h4.8M599.35 66.92h-4.8M415.7 57.49h4.8M599.35 57.49h-4.8M415.7 48.06h4.8M599.35 48.06h-4.8M415.7 38.63h4.8M599.35 38.63h-4.8M415.7 29.19h4.8M599.35 29.19h-4.8M415.7 19.76h4.8M599.35 19.76h-4.8M415.7 10.33h4.8M599.35 10.33h-4.8M415.7 141.25h4.8M599.35 141.25h-4.8M415.7 127.59h4.8M599.35 127.59h-4.8M415.7 113.93h4.8M599.35 113.93h-4.8M415.7 100.26h4.8M599.35 100.26h-4.8M415.7 86.6h4.8M599.35 86.6h-4.8M89.22 189.25v4.8M89.22 264.7v-4.8M89.22 264.7v4.8M89.22 339.85v-4.8M140.22 189.25v4.8M140.22 264.7v-4.8M140.22 264.7v4.8M140.22 339.85v-4.8M191.22 189.25v4.8M191.22 264.7v-4.8M191.22 264.7v4.8M191.22 339.85v-4.8M48.4 255.27h4.8M232.05 255.27h-4.8M48.4 245.84h4.8M232.05 245.84h-4.8M48.4 236.41h4.8M232.05 236.41h-4.8M48.4 226.97h4.8M232.05 226.97h-4.8M48.4 217.54h4.8M232.05 217.54h-4.8M48.4 208.11h4.8M232.05 208.11h-4.8M48.4 198.68h4.8M232.05 198.68h-4.8M48.4 329.6h4.8M232.05 329.6h-4.8M48.4 315.94h4.8M232.05 315.94h-4.8M48.4 302.27h4.8M232.05 302.27h-4.8M48.4 288.61h4.8M232.05 288.61h-4.8M48.4 274.95h4.8M232.05 274.95h-4.8M272.88 189.25v4.8M272.88 264.7v-4.8M272.88 264.7v4.8M272.88 339.85v-4.8M323.88 189.25v4.8M323.88 264.7v-4.8M323.88 264.7v4.8M323.88 339.85v-4.8M374.88 189.25v4.8M374.88 264.7v-4.8M374.88 264.7v4.8M374.88 339.85v-4.8M232.05 255.27h4.8M415.7 255.27h-4.8M232.05 245.84h4.8M415.7 245.84h-4.8M232.05 236.41h4.8M415.7 236.41h-4.8M232.05 226.97h4.8M415.7 226.97h-4.8M232.05 217.54h4.8M415.7 217.54h-4.8M232.05 208.11h4.8M415.7 208.11h-4.8M232.05 198.68h4.8M415.7 198.68h-4.8M232.05 329.6h4.8M415.7 329.6h-4.8M232.05 315.94h4.8M415.7 315.94h-4.8M232.05 302.27h4.8M415.7 302.27h-4.8M232.05 288.61h4.8M415.7 288.61h-4.8M232.05 274.95h4.8M415.7 274.95h-4.8M456.52 189.25v4.8M456.52 264.7v-4.8M456.52 264.7v4.8M456.52 339.85v-4.8M507.52 189.25v4.8M507.52 264.7v-4.8M507.52 264.7v4.8M507.52 339.85v-4.8M558.52 189.25v4.8M558.52 264.7v-4.8M558.52 264.7v4.8M558.52 339.85v-4.8M415.7 255.27h4.8M599.35 255.27h-4.8M415.7 245.84h4.8M599.35 245.84h-4.8M415.7 236.41h4.8M599.35 236.41h-4.8M415.7 226.97h4.8M599.35 226.97h-4.8M415.7 217.54h4.8M599.35 217.54h-4.8M415.7 208.11h4.8M599.35 208.11h-4.8M415.7 198.68h4.8M599.35 198.68h-4.8M415.7 329.6h4.8M599.35 329.6h-4.8M415.7 315.94h4.8M599.35 315.94h-4.8M415.7 302.27h4.8M599.35 302.27h-4.8M415.7 288.61h4.8M599.35 288.61h-4.8M415.7 274.95h4.8M599.35 274.95h-4.8M89.22 377.6v4.8M89.22 453.05v-4.8M89.22 453.05v4.8M89.22 528.2v-4.8M140.22 377.6v4.8M140.22 453.05v-4.8M140.22 453.05v4.8M140.22 528.2v-4.8M191.22 377.6v4.8M191.22 453.05v-4.8M191.22 453.05v4.8M191.22 528.2v-4.8M48.4 443.62h4.8M232.05 443.62h-4.8M48.4 434.19h4.8M232.05 434.19h-4.8M48.4 424.76h4.8M232.05 424.76h-4.8M48.4 415.32h4.8M232.05 415.32h-4.8M48.4 405.89h4.8M232.05 405.89h-4.8M48.4 396.46h4.8M232.05 396.46h-4.8M48.4 387.03h4.8M232.05 387.03h-4.8M48.4 517.95h4.8M232.05 517.95h-4.8M48.4 504.29h4.8M232.05 504.29h-4.8M48.4 490.62h4.8M232.05 490.62h-4.8M48.4 476.96h4.8M232.05 476.96h-4.8M48.4 463.3h4.8M232.05 463.3h-4.8M272.88 377.6v4.8M272.88 453.05v-4.8M272.88 453.05v4.8M272.88 528.2v-4.8M323.88 377.6v4.8M323.88 453.05v-4.8M323.88 453.05v4.8M323.88 528.2v-4.8M374.88 377.6v4.8M374.88 453.05v-4.8M374.88 453.05v4.8M374.88 528.2v-4.8M232.05 443.62h4.8M415.7 443.62h-4.8M232.05 434.19h4.8M415.7 434.19h-4.8M232.05 424.76h4.8M415.7 424.76h-4.8M232.05 415.32h4.8M415.7 415.32h-4.8M232.05 405.89h4.8M415.7 405.89h-4.8M232.05 396.46h4.8M415.7 396.46h-4.8M232.05 387.03h4.8M415.7 387.03h-4.8M232.05 517.95h4.8M415.7 517.95h-4.8M232.05 504.29h4.8M415.7 504.29h-4.8M232.05 490.62h4.8M415.7 490.62h-4.8M232.05 476.96h4.8M415.7 476.96h-4.8M232.05 463.3h4.8M415.7 463.3h-4.8M456.52 377.6v4.8M456.52 453.05v-4.8M456.52 453.05v4.8M456.52 528.2v-4.8M507.52 377.6v4.8M507.52 453.05v-4.8M507.52 453.05v4.8M507.52 528.2v-4.8M558.52 377.6v4.8M558.52 453.05v-4.8M558.52 453.05v4.8M558.52 528.2v-4.8M415.7 443.62h4.8M599.35 443.62h-4.8M415.7 434.19h4.8M599.35 434.19h-4.8M415.7 424.76h4.8M599.35 424.76h-4.8M415.7 415.32h4.8M599.35 415.32h-4.8M415.7 405.89h4.8M599.35 405.89h-4.8M415.7 396.46h4.8M599.35 396.46h-4.8M415.7 387.03h4.8M599.35 387.03h-4.8M415.7 517.95h4.8M599.35 517.95h-4.8M415.7 504.29h4.8M599.35 504.29h-4.8M415.7 490.62h4.8M599.35 490.62h-4.8M415.7 476.96h4.8M599.35 476.96h-4.8M415.7 463.3h4.8M599.35 463.3h-4.8M89.22 565.95v4.8M89.22 641.4v-4.8M89.22 641.4v4.8M89.22 716.55v-4.8M140.22 565.95v4.8M140.22 641.4v-4.8M140.22 641.4v4.8M140.22 716.55v-4.8M191.22 565.95v4.8M191.22 641.4v-4.8M191.22 641.4v4.8M191.22 716.55v-4.8M48.4 631.97h4.8M232.05 631.97h-4.8M48.4 622.54h4.8M232.05 622.54h-4.8M48.4 613.11h4.8M232.05 613.11h-4.8M48.4 603.67h4.8M232.05 603.67h-4.8M48.4 594.24h4.8M232.05 594.24h-4.8M48.4 584.81h4.8M232.05 584.81h-4.8M48.4 575.38h4.8M232.05 575.38h-4.8M48.4 706.3h4.8M232.05 706.3h-4.8M48.4 692.64h4.8M232.05 692.64h-4.8M48.4 678.98h4.8M232.05 678.98h-4.8M48.4 665.31h4.8M232.05 665.31h-4.8M48.4 651.65h4.8M232.05 651.65h-4.8M272.88 565.95v4.8M272.88 641.4v-4.8M272.88 641.4v4.8M272.88 716.55v-4.8M323.88 565.95v4.8M323.88 641.4v-4.8M323.88 641.4v4.8M323.88 716.55v-4.8M374.88 565.95v4.8M374.88 641.4v-4.8M374.88 641.4v4.8M374.88 716.55v-4.8M232.05 631.97h4.8M415.7 631.97h-4.8M232.05 622.54h4.8M415.7 622.54h-4.8M232.05 613.11h4.8M415.7 613.11h-4.8M232.05 603.67h4.8M415.7 603.67h-4.8M232.05 594.24h4.8M415.7 594.24h-4.8M232.05 584.81h4.8M415.7 584.81h-4.8M232.05 575.38h4.8M415.7 575.38h-4.8M232.05 706.3h4.8M415.7 706.3h-4.8M232.05 692.64h4.8M415.7 692.64h-4.8M232.05 678.98h4.8M415.7 678.98h-4.8M232.05 665.31h4.8M415.7 665.31h-4.8M232.05 651.65h4.8M415.7 651.65h-4.8M456.52 565.95v4.8M456.52 641.4v-4.8M456.52 641.4v4.8M456.52 716.55v-4.8M507.52 565.95v4.8M507.52 641.4v-4.8M507.52 641.4v4.8M507.52 716.55v-4.8M558.52 565.95v4.8M558.52 641.4v-4.8M558.52 641.4v4.8M558.52 716.55v-4.8M415.7 631.97h4.8M599.35 631.97h-4.8M415.7 622.54h4.8M599.35 622.54h-4.8M415.7 613.11h4.8M599.35 613.11h-4.8M415.7 603.67h4.8M599.35 603.67h-4.8M415.7 594.24h4.8M599.35 594.24h-4.8M415.7 584.81h4.8M599.35 584.81h-4.8M415.7 575.38h4.8M599.35 575.38h-4.8M415.7 706.3h4.8M599.35 706.3h-4.8M415.7 692.64h4.8M599.35 692.64h-4.8M415.7 678.98h4.8M599.35 678.98h-4.8M415.7 665.31h4.8M599.35 665.31h-4.8M415.7 651.65h4.8M599.35 651.65h-4.8"/></g>
<g fill="none" stroke="#000" stroke-width="1.4"><rect x="48.4" y="0.9" width="183.65" height="150.6"/><rect x="232.05" y="0.9" width="183.65" height="150.6"/><rect x="415.7" y="0.9" width="183.65" height="150.6"/><rect x="48.4" y="189.25" width="183.65" height="150.6"/><rect x="232.05" y="189.25" width="183.65" height="150.6"/><rect x="415.7" y="189.25" width="183.65" height="150.6"/><rect x="48.4" y="377.6" width="183.65" height="150.6"/><rect x="232.05" y="377.6" width="183.65" height="150.6"/><rect x="415.7" y="377.6" width="183.65" height="150.6"/><rect x="48.4" y="565.95" width="183.65" height="150.6"/><rect x="232.05" y="565.95" width="183.65" height="150.6"/><rect x="415.7" y="565.95" width="183.65" height="150.6"/><path d="M48.4 76.35H232.05M232.05 76.35H415.7M415.7 76.35H599.35M48.4 264.7H232.05M232.05 264.7H415.7M415.7 264.7H599.35M48.4 453.05H232.05M232.05 453.05H415.7M415.7 453.05H599.35M48.4 641.4H232.05M232.05 641.4H415.7M415.7 641.4H599.35"/></g>
<text x="89.92" y="163.3" class="t" text-anchor="middle" textLength="10.4" lengthAdjust="spacingAndGlyphs">−5</text>
<text x="140.72" y="163.3" class="t" text-anchor="middle" textLength="5.4" lengthAdjust="spacingAndGlyphs">0</text>
<text x="191.72" y="163.3" class="t" text-anchor="middle" textLength="5.4" lengthAdjust="spacingAndGlyphs">5</text>
<text x="140.82" y="177.35" class="xl" text-anchor="middle" textLength="78.5" lengthAdjust="spacing">Offset (arcsec)</text>
<text x="57.7" y="16.2" class="nm" textLength="62.5" lengthAdjust="spacing">0923+2254</text>
<text x="273.57" y="163.3" class="t" text-anchor="middle" textLength="10.4" lengthAdjust="spacingAndGlyphs">−5</text>
<text x="324.38" y="163.3" class="t" text-anchor="middle" textLength="5.4" lengthAdjust="spacingAndGlyphs">0</text>
<text x="375.38" y="163.3" class="t" text-anchor="middle" textLength="5.4" lengthAdjust="spacingAndGlyphs">5</text>
<text x="324.48" y="177.35" class="xl" text-anchor="middle" textLength="78.5" lengthAdjust="spacing">Offset (arcsec)</text>
<text x="241.35" y="16.2" class="nm" textLength="62.5" lengthAdjust="spacing">0923+2946</text>
<text x="457.22" y="163.3" class="t" text-anchor="middle" textLength="10.4" lengthAdjust="spacingAndGlyphs">−5</text>
<text x="508.02" y="163.3" class="t" text-anchor="middle" textLength="5.4" lengthAdjust="spacingAndGlyphs">0</text>
<text x="559.02" y="163.3" class="t" text-anchor="middle" textLength="5.4" lengthAdjust="spacingAndGlyphs">5</text>
<text x="508.12" y="177.35" class="xl" text-anchor="middle" textLength="78.5" lengthAdjust="spacing">Offset (arcsec)</text>
<text x="425" y="16.2" class="nm" textLength="62.5" lengthAdjust="spacing">0927+2301</text>
<text x="44.3" y="70.52" class="t" text-anchor="end" textLength="11.6" lengthAdjust="spacingAndGlyphs">50</text>
<text x="44.3" y="61.09" class="t" text-anchor="end" textLength="17.4" lengthAdjust="spacingAndGlyphs">100</text>
<text x="44.3" y="51.66" class="t" text-anchor="end" textLength="17.4" lengthAdjust="spacingAndGlyphs">150</text>
<text x="44.3" y="42.23" class="t" text-anchor="end" textLength="17.4" lengthAdjust="spacingAndGlyphs">200</text>
<text x="44.3" y="32.79" class="t" text-anchor="end" textLength="17.4" lengthAdjust="spacingAndGlyphs">250</text>
<text x="44.3" y="23.36" class="t" text-anchor="end" textLength="17.4" lengthAdjust="spacingAndGlyphs">300</text>
<text x="44.3" y="13.93" class="t" text-anchor="end" textLength="17.4" lengthAdjust="spacingAndGlyphs">350</text>
<text x="44.3" y="90.2" class="t" text-anchor="end" textLength="17.4" lengthAdjust="spacingAndGlyphs">200</text>
<text x="44.3" y="103.86" class="t" text-anchor="end" textLength="17.4" lengthAdjust="spacingAndGlyphs">100</text>
<text x="44.3" y="117.53" class="t" text-anchor="end" textLength="5.4" lengthAdjust="spacingAndGlyphs">0</text>
<text x="44.3" y="131.19" class="t" text-anchor="end" textLength="24.3" lengthAdjust="spacingAndGlyphs">−100</text>
<text x="44.3" y="144.85" class="t" text-anchor="end" textLength="24.3" lengthAdjust="spacingAndGlyphs">−200</text>
<text transform="translate(16.9 39.12) rotate(-90)" class="yl" text-anchor="middle" textLength="53.5" lengthAdjust="spacingAndGlyphs"><tspan font-style="italic">&#963;</tspan> (km s<tspan class="sup" dy="-3.8">&#8722;1</tspan><tspan dy="3.8">)</tspan></text>
<text transform="translate(9.9 114.43) rotate(-90)" class="yl" text-anchor="middle" textLength="51.5" lengthAdjust="spacingAndGlyphs"><tspan font-style="italic">v</tspan> (km s<tspan class="sup" dy="-3.8">&#8722;1</tspan><tspan dy="3.8">)</tspan></text>
<text x="89.92" y="351.65" class="t" text-anchor="middle" textLength="10.4" lengthAdjust="spacingAndGlyphs">−5</text>
<text x="140.72" y="351.65" class="t" text-anchor="middle" textLength="5.4" lengthAdjust="spacingAndGlyphs">0</text>
<text x="191.72" y="351.65" class="t" text-anchor="middle" textLength="5.4" lengthAdjust="spacingAndGlyphs">5</text>
<text x="140.82" y="365.7" class="xl" text-anchor="middle" textLength="78.5" lengthAdjust="spacing">Offset (arcsec)</text>
<text x="57.7" y="204.55" class="nm" textLength="62.5" lengthAdjust="spacing">0932+0233</text>
<text x="273.57" y="351.65" class="t" text-anchor="middle" textLength="10.4" lengthAdjust="spacingAndGlyphs">−5</text>
<text x="324.38" y="351.65" class="t" text-anchor="middle" textLength="5.4" lengthAdjust="spacingAndGlyphs">0</text>
<text x="375.38" y="351.65" class="t" text-anchor="middle" textLength="5.4" lengthAdjust="spacingAndGlyphs">5</text>
<text x="324.48" y="365.7" class="xl" text-anchor="middle" textLength="78.5" lengthAdjust="spacing">Offset (arcsec)</text>
<text x="241.35" y="204.55" class="nm" textLength="62.5" lengthAdjust="spacing">0932+0405</text>
<text x="457.22" y="351.65" class="t" text-anchor="middle" textLength="10.4" lengthAdjust="spacingAndGlyphs">−5</text>
<text x="508.02" y="351.65" class="t" text-anchor="middle" textLength="5.4" lengthAdjust="spacingAndGlyphs">0</text>
<text x="559.02" y="351.65" class="t" text-anchor="middle" textLength="5.4" lengthAdjust="spacingAndGlyphs">5</text>
<text x="508.12" y="365.7" class="xl" text-anchor="middle" textLength="78.5" lengthAdjust="spacing">Offset (arcsec)</text>
<text x="425" y="204.55" class="nm" textLength="62.5" lengthAdjust="spacing">0938+0743</text>
<text x="44.3" y="258.87" class="t" text-anchor="end" textLength="11.6" lengthAdjust="spacingAndGlyphs">50</text>
<text x="44.3" y="249.44" class="t" text-anchor="end" textLength="17.4" lengthAdjust="spacingAndGlyphs">100</text>
<text x="44.3" y="240.01" class="t" text-anchor="end" textLength="17.4" lengthAdjust="spacingAndGlyphs">150</text>
<text x="44.3" y="230.57" class="t" text-anchor="end" textLength="17.4" lengthAdjust="spacingAndGlyphs">200</text>
<text x="44.3" y="221.14" class="t" text-anchor="end" textLength="17.4" lengthAdjust="spacingAndGlyphs">250</text>
<text x="44.3" y="211.71" class="t" text-anchor="end" textLength="17.4" lengthAdjust="spacingAndGlyphs">300</text>
<text x="44.3" y="202.28" class="t" text-anchor="end" textLength="17.4" lengthAdjust="spacingAndGlyphs">350</text>
<text x="44.3" y="278.55" class="t" text-anchor="end" textLength="17.4" lengthAdjust="spacingAndGlyphs">200</text>
<text x="44.3" y="292.21" class="t" text-anchor="end" textLength="17.4" lengthAdjust="spacingAndGlyphs">100</text>
<text x="44.3" y="305.88" class="t" text-anchor="end" textLength="5.4" lengthAdjust="spacingAndGlyphs">0</text>
<text x="44.3" y="319.54" class="t" text-anchor="end" textLength="24.3" lengthAdjust="spacingAndGlyphs">−100</text>
<text x="44.3" y="333.2" class="t" text-anchor="end" textLength="24.3" lengthAdjust="spacingAndGlyphs">−200</text>
<text transform="translate(16.9 227.47) rotate(-90)" class="yl" text-anchor="middle" textLength="53.5" lengthAdjust="spacingAndGlyphs"><tspan font-style="italic">&#963;</tspan> (km s<tspan class="sup" dy="-3.8">&#8722;1</tspan><tspan dy="3.8">)</tspan></text>
<text transform="translate(9.9 302.77) rotate(-90)" class="yl" text-anchor="middle" textLength="51.5" lengthAdjust="spacingAndGlyphs"><tspan font-style="italic">v</tspan> (km s<tspan class="sup" dy="-3.8">&#8722;1</tspan><tspan dy="3.8">)</tspan></text>
<text x="89.92" y="540" class="t" text-anchor="middle" textLength="10.4" lengthAdjust="spacingAndGlyphs">−5</text>
<text x="140.72" y="540" class="t" text-anchor="middle" textLength="5.4" lengthAdjust="spacingAndGlyphs">0</text>
<text x="191.72" y="540" class="t" text-anchor="middle" textLength="5.4" lengthAdjust="spacingAndGlyphs">5</text>
<text x="140.82" y="554.05" class="xl" text-anchor="middle" textLength="78.5" lengthAdjust="spacing">Offset (arcsec)</text>
<text x="57.7" y="392.9" class="nm" textLength="62.5" lengthAdjust="spacing">0948+4030</text>
<text x="273.57" y="540" class="t" text-anchor="middle" textLength="10.4" lengthAdjust="spacingAndGlyphs">−5</text>
<text x="324.38" y="540" class="t" text-anchor="middle" textLength="5.4" lengthAdjust="spacingAndGlyphs">0</text>
<text x="375.38" y="540" class="t" text-anchor="middle" textLength="5.4" lengthAdjust="spacingAndGlyphs">5</text>
<text x="324.48" y="554.05" class="xl" text-anchor="middle" textLength="78.5" lengthAdjust="spacing">Offset (arcsec)</text>
<text x="241.35" y="392.9" class="nm" textLength="62.5" lengthAdjust="spacing">1002+2648</text>
<text x="457.22" y="540" class="t" text-anchor="middle" textLength="10.4" lengthAdjust="spacingAndGlyphs">−5</text>
<text x="508.02" y="540" class="t" text-anchor="middle" textLength="5.4" lengthAdjust="spacingAndGlyphs">0</text>
<text x="559.02" y="540" class="t" text-anchor="middle" textLength="5.4" lengthAdjust="spacingAndGlyphs">5</text>
<text x="508.12" y="554.05" class="xl" text-anchor="middle" textLength="78.5" lengthAdjust="spacing">Offset (arcsec)</text>
<text x="425" y="392.9" class="nm" textLength="62.5" lengthAdjust="spacing">1029+1408</text>
<text x="44.3" y="447.22" class="t" text-anchor="end" textLength="11.6" lengthAdjust="spacingAndGlyphs">50</text>
<text x="44.3" y="437.79" class="t" text-anchor="end" textLength="17.4" lengthAdjust="spacingAndGlyphs">100</text>
<text x="44.3" y="428.36" class="t" text-anchor="end" textLength="17.4" lengthAdjust="spacingAndGlyphs">150</text>
<text x="44.3" y="418.92" class="t" text-anchor="end" textLength="17.4" lengthAdjust="spacingAndGlyphs">200</text>
<text x="44.3" y="409.49" class="t" text-anchor="end" textLength="17.4" lengthAdjust="spacingAndGlyphs">250</text>
<text x="44.3" y="400.06" class="t" text-anchor="end" textLength="17.4" lengthAdjust="spacingAndGlyphs">300</text>
<text x="44.3" y="390.63" class="t" text-anchor="end" textLength="17.4" lengthAdjust="spacingAndGlyphs">350</text>
<text x="44.3" y="466.9" class="t" text-anchor="end" textLength="17.4" lengthAdjust="spacingAndGlyphs">200</text>
<text x="44.3" y="480.56" class="t" text-anchor="end" textLength="17.4" lengthAdjust="spacingAndGlyphs">100</text>
<text x="44.3" y="494.22" class="t" text-anchor="end" textLength="5.4" lengthAdjust="spacingAndGlyphs">0</text>
<text x="44.3" y="507.89" class="t" text-anchor="end" textLength="24.3" lengthAdjust="spacingAndGlyphs">−100</text>
<text x="44.3" y="521.55" class="t" text-anchor="end" textLength="24.3" lengthAdjust="spacingAndGlyphs">−200</text>
<text transform="translate(16.9 415.82) rotate(-90)" class="yl" text-anchor="middle" textLength="53.5" lengthAdjust="spacingAndGlyphs"><tspan font-style="italic">&#963;</tspan> (km s<tspan class="sup" dy="-3.8">&#8722;1</tspan><tspan dy="3.8">)</tspan></text>
<text transform="translate(9.9 491.12) rotate(-90)" class="yl" text-anchor="middle" textLength="51.5" lengthAdjust="spacingAndGlyphs"><tspan font-style="italic">v</tspan> (km s<tspan class="sup" dy="-3.8">&#8722;1</tspan><tspan dy="3.8">)</tspan></text>
<text x="89.92" y="728.35" class="t" text-anchor="middle" textLength="10.4" lengthAdjust="spacingAndGlyphs">−5</text>
<text x="140.72" y="728.35" class="t" text-anchor="middle" textLength="5.4" lengthAdjust="spacingAndGlyphs">0</text>
<text x="191.72" y="728.35" class="t" text-anchor="middle" textLength="5.4" lengthAdjust="spacingAndGlyphs">5</text>
<text x="140.82" y="742.4" class="xl" text-anchor="middle" textLength="78.5" lengthAdjust="spacing">Offset (arcsec)</text>
<text x="57.7" y="581.25" class="nm" textLength="62.5" lengthAdjust="spacing">1029+2728</text>
<text x="273.57" y="728.35" class="t" text-anchor="middle" textLength="10.4" lengthAdjust="spacingAndGlyphs">−5</text>
<text x="324.38" y="728.35" class="t" text-anchor="middle" textLength="5.4" lengthAdjust="spacingAndGlyphs">0</text>
<text x="375.38" y="728.35" class="t" text-anchor="middle" textLength="5.4" lengthAdjust="spacingAndGlyphs">5</text>
<text x="324.48" y="742.4" class="xl" text-anchor="middle" textLength="78.5" lengthAdjust="spacing">Offset (arcsec)</text>
<text x="241.35" y="581.25" class="nm" textLength="62.5" lengthAdjust="spacing">1029+4019</text>
<text x="457.22" y="728.35" class="t" text-anchor="middle" textLength="10.4" lengthAdjust="spacingAndGlyphs">−5</text>
<text x="508.02" y="728.35" class="t" text-anchor="middle" textLength="5.4" lengthAdjust="spacingAndGlyphs">0</text>
<text x="559.02" y="728.35" class="t" text-anchor="middle" textLength="5.4" lengthAdjust="spacingAndGlyphs">5</text>
<text x="508.12" y="742.4" class="xl" text-anchor="middle" textLength="78.5" lengthAdjust="spacing">Offset (arcsec)</text>
<text x="425" y="581.25" class="nm" textLength="62.5" lengthAdjust="spacing">1042+0414</text>
<text x="44.3" y="635.57" class="t" text-anchor="end" textLength="11.6" lengthAdjust="spacingAndGlyphs">50</text>
<text x="44.3" y="626.14" class="t" text-anchor="end" textLength="17.4" lengthAdjust="spacingAndGlyphs">100</text>
<text x="44.3" y="616.71" class="t" text-anchor="end" textLength="17.4" lengthAdjust="spacingAndGlyphs">150</text>
<text x="44.3" y="607.27" class="t" text-anchor="end" textLength="17.4" lengthAdjust="spacingAndGlyphs">200</text>
<text x="44.3" y="597.84" class="t" text-anchor="end" textLength="17.4" lengthAdjust="spacingAndGlyphs">250</text>
<text x="44.3" y="588.41" class="t" text-anchor="end" textLength="17.4" lengthAdjust="spacingAndGlyphs">300</text>
<text x="44.3" y="578.98" class="t" text-anchor="end" textLength="17.4" lengthAdjust="spacingAndGlyphs">350</text>
<text x="44.3" y="655.25" class="t" text-anchor="end" textLength="17.4" lengthAdjust="spacingAndGlyphs">200</text>
<text x="44.3" y="668.91" class="t" text-anchor="end" textLength="17.4" lengthAdjust="spacingAndGlyphs">100</text>
<text x="44.3" y="682.58" class="t" text-anchor="end" textLength="5.4" lengthAdjust="spacingAndGlyphs">0</text>
<text x="44.3" y="696.24" class="t" text-anchor="end" textLength="24.3" lengthAdjust="spacingAndGlyphs">−100</text>
<text x="44.3" y="709.9" class="t" text-anchor="end" textLength="24.3" lengthAdjust="spacingAndGlyphs">−200</text>
<text transform="translate(16.9 604.17) rotate(-90)" class="yl" text-anchor="middle" textLength="53.5" lengthAdjust="spacingAndGlyphs"><tspan font-style="italic">&#963;</tspan> (km s<tspan class="sup" dy="-3.8">&#8722;1</tspan><tspan dy="3.8">)</tspan></text>
<text transform="translate(9.9 679.48) rotate(-90)" class="yl" text-anchor="middle" textLength="51.5" lengthAdjust="spacingAndGlyphs"><tspan font-style="italic">v</tspan> (km s<tspan class="sup" dy="-3.8">&#8722;1</tspan><tspan dy="3.8">)</tspan></text>
</svg>
</body></html>
